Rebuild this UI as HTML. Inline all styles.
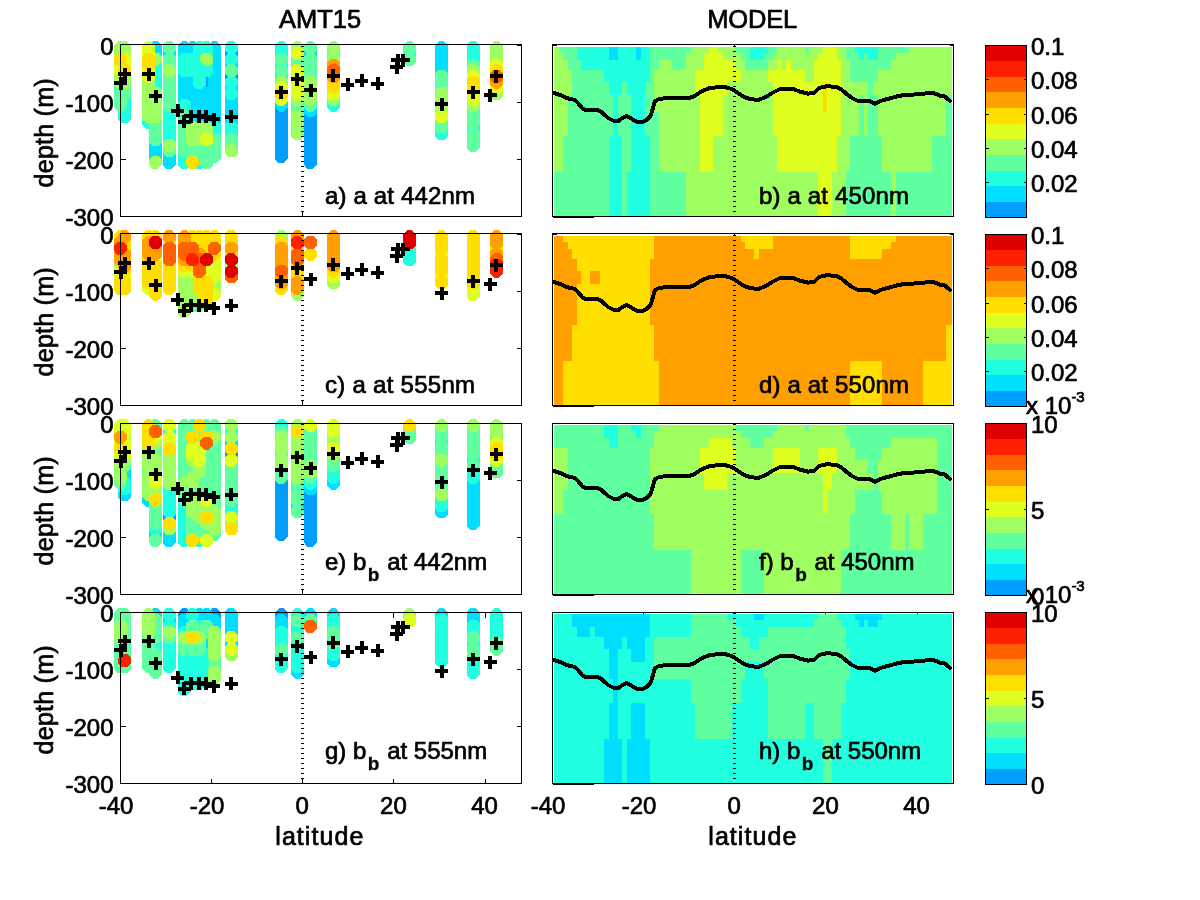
<!DOCTYPE html>
<html lang="en"><head><meta charset="utf-8"><title>AMT15 vs MODEL</title>
<style>html,body{margin:0;padding:0;background:#fff}body{width:1200px;height:900px;overflow:hidden}svg{display:block}text{font-family:"Liberation Sans",sans-serif;fill:#000;stroke:#000;stroke-width:.7px}.t{font-size:24px}.ax{fill:none;stroke:#000;stroke-width:1;shape-rendering:crispEdges}.tk{stroke:#000;stroke-width:1;shape-rendering:crispEdges;fill:none}.z{stroke:#000;stroke-width:3;stroke-dasharray:1 4;shape-rendering:crispEdges}.m{shape-rendering:crispEdges}.p{stroke:#000;stroke-width:4;shape-rendering:crispEdges}.ml{fill:none;stroke:#000;stroke-width:4;stroke-linejoin:round;stroke-linecap:round;shape-rendering:crispEdges}</style></head><body>
<svg width="1200" height="900" viewBox="0 0 1200 900">
<rect width="1200" height="900" fill="#fff"/>
<defs><polygon id="o" points="-2.69,-6.50 2.69,-6.50 6.50,-2.69 6.50,2.69 2.69,6.50 -2.69,6.50 -6.50,2.69 -6.50,-2.69"/>
<path id="pl" d="M-6.5 0H6.5M0 -6.5V6.5"/></defs>
<text class="t" x="320" y="28" text-anchor="middle" style="font-size:25.5px">AMT15</text>
<text class="t" x="752.3" y="28" text-anchor="middle" style="font-size:25.5px" textLength="90">MODEL</text>
<text class="t" x="113.5" y="54.7" text-anchor="end">0</text>
<text class="t" x="113.5" y="111.7" text-anchor="end">-100</text>
<text class="t" x="113.5" y="168.7" text-anchor="end">-200</text>
<text class="t" x="113.5" y="225.7" text-anchor="end">-300</text>
<path class="tk" d="M120.5 45.5h5M521.5 45.5h-5M120.5 102.5h5M521.5 102.5h-5M120.5 159.5h5M521.5 159.5h-5M302.5 216.5v-5"/>
<g class="m">
<use href="#o" x="206.6" y="76.5" fill="#009FFF"/>
<use href="#o" x="206.6" y="82.2" fill="#009FFF"/>
<use href="#o" x="206.6" y="87.9" fill="#009FFF"/>
<use href="#o" x="231.2" y="53.6" fill="#009FFF"/>
<use href="#o" x="231.2" y="76.5" fill="#009FFF"/>
<use href="#o" x="281.3" y="110.8" fill="#009FFF"/>
<use href="#o" x="281.3" y="116.5" fill="#009FFF"/>
<use href="#o" x="281.3" y="122.2" fill="#009FFF"/>
<use href="#o" x="281.3" y="127.9" fill="#009FFF"/>
<use href="#o" x="281.3" y="133.7" fill="#009FFF"/>
<use href="#o" x="281.3" y="139.4" fill="#009FFF"/>
<use href="#o" x="281.3" y="145.1" fill="#009FFF"/>
<use href="#o" x="281.3" y="150.8" fill="#009FFF"/>
<use href="#o" x="281.3" y="156.5" fill="#009FFF"/>
<use href="#o" x="310.5" y="116.5" fill="#009FFF"/>
<use href="#o" x="310.5" y="122.2" fill="#009FFF"/>
<use href="#o" x="310.5" y="127.9" fill="#009FFF"/>
<use href="#o" x="310.5" y="133.7" fill="#009FFF"/>
<use href="#o" x="310.5" y="139.4" fill="#009FFF"/>
<use href="#o" x="310.5" y="145.1" fill="#009FFF"/>
<use href="#o" x="310.5" y="150.8" fill="#009FFF"/>
<use href="#o" x="310.5" y="156.5" fill="#009FFF"/>
<use href="#o" x="310.5" y="162.3" fill="#009FFF"/>
<use href="#o" x="155.5" y="47.9" fill="#00DFFF"/>
<use href="#o" x="155.5" y="53.6" fill="#00DFFF"/>
<use href="#o" x="155.5" y="145.1" fill="#00DFFF"/>
<use href="#o" x="155.5" y="150.8" fill="#00DFFF"/>
<use href="#o" x="155.5" y="156.5" fill="#00DFFF"/>
<use href="#o" x="169.2" y="53.6" fill="#00DFFF"/>
<use href="#o" x="169.2" y="156.5" fill="#00DFFF"/>
<use href="#o" x="169.2" y="162.3" fill="#00DFFF"/>
<use href="#o" x="184.3" y="47.9" fill="#00DFFF"/>
<use href="#o" x="184.3" y="53.6" fill="#00DFFF"/>
<use href="#o" x="184.3" y="76.5" fill="#00DFFF"/>
<use href="#o" x="184.3" y="82.2" fill="#00DFFF"/>
<use href="#o" x="184.3" y="87.9" fill="#00DFFF"/>
<use href="#o" x="184.3" y="93.6" fill="#00DFFF"/>
<use href="#o" x="184.3" y="99.3" fill="#00DFFF"/>
<use href="#o" x="192.5" y="47.9" fill="#00DFFF"/>
<use href="#o" x="192.5" y="53.6" fill="#00DFFF"/>
<use href="#o" x="192.5" y="76.5" fill="#00DFFF"/>
<use href="#o" x="192.5" y="82.2" fill="#00DFFF"/>
<use href="#o" x="192.5" y="87.9" fill="#00DFFF"/>
<use href="#o" x="192.5" y="93.6" fill="#00DFFF"/>
<use href="#o" x="192.5" y="99.3" fill="#00DFFF"/>
<use href="#o" x="192.5" y="105.1" fill="#00DFFF"/>
<use href="#o" x="192.5" y="110.8" fill="#00DFFF"/>
<use href="#o" x="192.5" y="116.5" fill="#00DFFF"/>
<use href="#o" x="192.5" y="122.2" fill="#00DFFF"/>
<use href="#o" x="199.3" y="87.9" fill="#00DFFF"/>
<use href="#o" x="199.3" y="93.6" fill="#00DFFF"/>
<use href="#o" x="199.3" y="99.3" fill="#00DFFF"/>
<use href="#o" x="199.3" y="105.1" fill="#00DFFF"/>
<use href="#o" x="199.3" y="110.8" fill="#00DFFF"/>
<use href="#o" x="199.3" y="116.5" fill="#00DFFF"/>
<use href="#o" x="199.3" y="122.2" fill="#00DFFF"/>
<use href="#o" x="206.6" y="93.6" fill="#00DFFF"/>
<use href="#o" x="206.6" y="99.3" fill="#00DFFF"/>
<use href="#o" x="206.6" y="105.1" fill="#00DFFF"/>
<use href="#o" x="206.6" y="110.8" fill="#00DFFF"/>
<use href="#o" x="206.6" y="116.5" fill="#00DFFF"/>
<use href="#o" x="206.6" y="122.2" fill="#00DFFF"/>
<use href="#o" x="214.3" y="47.9" fill="#00DFFF"/>
<use href="#o" x="214.3" y="53.6" fill="#00DFFF"/>
<use href="#o" x="214.3" y="59.3" fill="#00DFFF"/>
<use href="#o" x="214.3" y="65.0" fill="#00DFFF"/>
<use href="#o" x="214.3" y="70.7" fill="#00DFFF"/>
<use href="#o" x="214.3" y="76.5" fill="#00DFFF"/>
<use href="#o" x="214.3" y="82.2" fill="#00DFFF"/>
<use href="#o" x="214.3" y="87.9" fill="#00DFFF"/>
<use href="#o" x="214.3" y="93.6" fill="#00DFFF"/>
<use href="#o" x="214.3" y="99.3" fill="#00DFFF"/>
<use href="#o" x="214.3" y="105.1" fill="#00DFFF"/>
<use href="#o" x="214.3" y="110.8" fill="#00DFFF"/>
<use href="#o" x="214.3" y="116.5" fill="#00DFFF"/>
<use href="#o" x="214.3" y="122.2" fill="#00DFFF"/>
<use href="#o" x="231.2" y="65.0" fill="#00DFFF"/>
<use href="#o" x="231.2" y="87.9" fill="#00DFFF"/>
<use href="#o" x="231.2" y="99.3" fill="#00DFFF"/>
<use href="#o" x="231.2" y="105.1" fill="#00DFFF"/>
<use href="#o" x="231.2" y="110.8" fill="#00DFFF"/>
<use href="#o" x="231.2" y="116.5" fill="#00DFFF"/>
<use href="#o" x="231.2" y="122.2" fill="#00DFFF"/>
<use href="#o" x="281.3" y="105.1" fill="#00DFFF"/>
<use href="#o" x="310.5" y="53.6" fill="#00DFFF"/>
<use href="#o" x="310.5" y="110.8" fill="#00DFFF"/>
<use href="#o" x="441.5" y="47.9" fill="#00DFFF"/>
<use href="#o" x="441.5" y="53.6" fill="#00DFFF"/>
<use href="#o" x="441.5" y="59.3" fill="#00DFFF"/>
<use href="#o" x="441.5" y="65.0" fill="#00DFFF"/>
<use href="#o" x="441.5" y="70.7" fill="#00DFFF"/>
<use href="#o" x="124.6" y="99.3" fill="#20FFDF"/>
<use href="#o" x="124.6" y="105.1" fill="#20FFDF"/>
<use href="#o" x="124.6" y="110.8" fill="#20FFDF"/>
<use href="#o" x="124.6" y="116.5" fill="#20FFDF"/>
<use href="#o" x="148.7" y="122.2" fill="#20FFDF"/>
<use href="#o" x="155.5" y="65.0" fill="#20FFDF"/>
<use href="#o" x="155.5" y="70.7" fill="#20FFDF"/>
<use href="#o" x="155.5" y="76.5" fill="#20FFDF"/>
<use href="#o" x="155.5" y="82.2" fill="#20FFDF"/>
<use href="#o" x="155.5" y="87.9" fill="#20FFDF"/>
<use href="#o" x="169.2" y="110.8" fill="#20FFDF"/>
<use href="#o" x="169.2" y="116.5" fill="#20FFDF"/>
<use href="#o" x="169.2" y="122.2" fill="#20FFDF"/>
<use href="#o" x="169.2" y="127.9" fill="#20FFDF"/>
<use href="#o" x="169.2" y="133.7" fill="#20FFDF"/>
<use href="#o" x="169.2" y="139.4" fill="#20FFDF"/>
<use href="#o" x="184.3" y="59.3" fill="#20FFDF"/>
<use href="#o" x="184.3" y="65.0" fill="#20FFDF"/>
<use href="#o" x="184.3" y="70.7" fill="#20FFDF"/>
<use href="#o" x="184.3" y="105.1" fill="#20FFDF"/>
<use href="#o" x="184.3" y="110.8" fill="#20FFDF"/>
<use href="#o" x="184.3" y="156.5" fill="#20FFDF"/>
<use href="#o" x="184.3" y="162.3" fill="#20FFDF"/>
<use href="#o" x="192.5" y="59.3" fill="#20FFDF"/>
<use href="#o" x="192.5" y="65.0" fill="#20FFDF"/>
<use href="#o" x="192.5" y="70.7" fill="#20FFDF"/>
<use href="#o" x="199.3" y="47.9" fill="#20FFDF"/>
<use href="#o" x="199.3" y="53.6" fill="#20FFDF"/>
<use href="#o" x="199.3" y="59.3" fill="#20FFDF"/>
<use href="#o" x="199.3" y="65.0" fill="#20FFDF"/>
<use href="#o" x="199.3" y="70.7" fill="#20FFDF"/>
<use href="#o" x="199.3" y="76.5" fill="#20FFDF"/>
<use href="#o" x="199.3" y="82.2" fill="#20FFDF"/>
<use href="#o" x="199.3" y="156.5" fill="#20FFDF"/>
<use href="#o" x="199.3" y="162.3" fill="#20FFDF"/>
<use href="#o" x="206.6" y="47.9" fill="#20FFDF"/>
<use href="#o" x="206.6" y="53.6" fill="#20FFDF"/>
<use href="#o" x="206.6" y="65.0" fill="#20FFDF"/>
<use href="#o" x="206.6" y="70.7" fill="#20FFDF"/>
<use href="#o" x="214.3" y="127.9" fill="#20FFDF"/>
<use href="#o" x="214.3" y="133.7" fill="#20FFDF"/>
<use href="#o" x="231.2" y="47.9" fill="#20FFDF"/>
<use href="#o" x="231.2" y="59.3" fill="#20FFDF"/>
<use href="#o" x="231.2" y="82.2" fill="#20FFDF"/>
<use href="#o" x="231.2" y="93.6" fill="#20FFDF"/>
<use href="#o" x="231.2" y="127.9" fill="#20FFDF"/>
<use href="#o" x="231.2" y="133.7" fill="#20FFDF"/>
<use href="#o" x="281.3" y="47.9" fill="#20FFDF"/>
<use href="#o" x="281.3" y="53.6" fill="#20FFDF"/>
<use href="#o" x="281.3" y="65.0" fill="#20FFDF"/>
<use href="#o" x="281.3" y="76.5" fill="#20FFDF"/>
<use href="#o" x="333.5" y="105.1" fill="#20FFDF"/>
<use href="#o" x="409.6" y="53.6" fill="#20FFDF"/>
<use href="#o" x="441.5" y="133.7" fill="#20FFDF"/>
<use href="#o" x="473.2" y="47.9" fill="#20FFDF"/>
<use href="#o" x="473.2" y="53.6" fill="#20FFDF"/>
<use href="#o" x="473.2" y="59.3" fill="#20FFDF"/>
<use href="#o" x="473.2" y="127.9" fill="#20FFDF"/>
<use href="#o" x="120.5" y="87.9" fill="#60FF9F"/>
<use href="#o" x="120.5" y="93.6" fill="#60FF9F"/>
<use href="#o" x="120.5" y="99.3" fill="#60FF9F"/>
<use href="#o" x="120.5" y="105.1" fill="#60FF9F"/>
<use href="#o" x="124.6" y="87.9" fill="#60FF9F"/>
<use href="#o" x="124.6" y="93.6" fill="#60FF9F"/>
<use href="#o" x="155.5" y="122.2" fill="#60FF9F"/>
<use href="#o" x="155.5" y="127.9" fill="#60FF9F"/>
<use href="#o" x="155.5" y="133.7" fill="#60FF9F"/>
<use href="#o" x="155.5" y="139.4" fill="#60FF9F"/>
<use href="#o" x="169.2" y="47.9" fill="#60FF9F"/>
<use href="#o" x="169.2" y="59.3" fill="#60FF9F"/>
<use href="#o" x="169.2" y="65.0" fill="#60FF9F"/>
<use href="#o" x="169.2" y="76.5" fill="#60FF9F"/>
<use href="#o" x="169.2" y="82.2" fill="#60FF9F"/>
<use href="#o" x="169.2" y="87.9" fill="#60FF9F"/>
<use href="#o" x="169.2" y="93.6" fill="#60FF9F"/>
<use href="#o" x="169.2" y="99.3" fill="#60FF9F"/>
<use href="#o" x="169.2" y="105.1" fill="#60FF9F"/>
<use href="#o" x="169.2" y="150.8" fill="#60FF9F"/>
<use href="#o" x="184.3" y="116.5" fill="#60FF9F"/>
<use href="#o" x="184.3" y="122.2" fill="#60FF9F"/>
<use href="#o" x="184.3" y="127.9" fill="#60FF9F"/>
<use href="#o" x="184.3" y="133.7" fill="#60FF9F"/>
<use href="#o" x="184.3" y="139.4" fill="#60FF9F"/>
<use href="#o" x="184.3" y="145.1" fill="#60FF9F"/>
<use href="#o" x="184.3" y="150.8" fill="#60FF9F"/>
<use href="#o" x="192.5" y="145.1" fill="#60FF9F"/>
<use href="#o" x="192.5" y="150.8" fill="#60FF9F"/>
<use href="#o" x="192.5" y="156.5" fill="#60FF9F"/>
<use href="#o" x="199.3" y="145.1" fill="#60FF9F"/>
<use href="#o" x="199.3" y="150.8" fill="#60FF9F"/>
<use href="#o" x="206.6" y="145.1" fill="#60FF9F"/>
<use href="#o" x="206.6" y="150.8" fill="#60FF9F"/>
<use href="#o" x="206.6" y="156.5" fill="#60FF9F"/>
<use href="#o" x="206.6" y="162.3" fill="#60FF9F"/>
<use href="#o" x="214.3" y="139.4" fill="#60FF9F"/>
<use href="#o" x="214.3" y="145.1" fill="#60FF9F"/>
<use href="#o" x="214.3" y="150.8" fill="#60FF9F"/>
<use href="#o" x="214.3" y="156.5" fill="#60FF9F"/>
<use href="#o" x="231.2" y="70.7" fill="#60FF9F"/>
<use href="#o" x="231.2" y="139.4" fill="#60FF9F"/>
<use href="#o" x="231.2" y="145.1" fill="#60FF9F"/>
<use href="#o" x="281.3" y="59.3" fill="#60FF9F"/>
<use href="#o" x="281.3" y="70.7" fill="#60FF9F"/>
<use href="#o" x="297.3" y="59.3" fill="#60FF9F"/>
<use href="#o" x="297.3" y="65.0" fill="#60FF9F"/>
<use href="#o" x="297.3" y="105.1" fill="#60FF9F"/>
<use href="#o" x="297.3" y="110.8" fill="#60FF9F"/>
<use href="#o" x="297.3" y="127.9" fill="#60FF9F"/>
<use href="#o" x="310.5" y="47.9" fill="#60FF9F"/>
<use href="#o" x="310.5" y="59.3" fill="#60FF9F"/>
<use href="#o" x="310.5" y="65.0" fill="#60FF9F"/>
<use href="#o" x="310.5" y="70.7" fill="#60FF9F"/>
<use href="#o" x="310.5" y="76.5" fill="#60FF9F"/>
<use href="#o" x="310.5" y="105.1" fill="#60FF9F"/>
<use href="#o" x="333.5" y="53.6" fill="#60FF9F"/>
<use href="#o" x="409.6" y="47.9" fill="#60FF9F"/>
<use href="#o" x="409.6" y="59.3" fill="#60FF9F"/>
<use href="#o" x="441.5" y="76.5" fill="#60FF9F"/>
<use href="#o" x="441.5" y="82.2" fill="#60FF9F"/>
<use href="#o" x="441.5" y="87.9" fill="#60FF9F"/>
<use href="#o" x="441.5" y="122.2" fill="#60FF9F"/>
<use href="#o" x="441.5" y="127.9" fill="#60FF9F"/>
<use href="#o" x="473.2" y="65.0" fill="#60FF9F"/>
<use href="#o" x="473.2" y="110.8" fill="#60FF9F"/>
<use href="#o" x="473.2" y="116.5" fill="#60FF9F"/>
<use href="#o" x="473.2" y="122.2" fill="#60FF9F"/>
<use href="#o" x="473.2" y="133.7" fill="#60FF9F"/>
<use href="#o" x="473.2" y="139.4" fill="#60FF9F"/>
<use href="#o" x="473.2" y="145.1" fill="#60FF9F"/>
<use href="#o" x="120.5" y="47.9" fill="#9FFF60"/>
<use href="#o" x="120.5" y="53.6" fill="#9FFF60"/>
<use href="#o" x="120.5" y="76.5" fill="#9FFF60"/>
<use href="#o" x="120.5" y="82.2" fill="#9FFF60"/>
<use href="#o" x="124.6" y="47.9" fill="#9FFF60"/>
<use href="#o" x="124.6" y="53.6" fill="#9FFF60"/>
<use href="#o" x="124.6" y="76.5" fill="#9FFF60"/>
<use href="#o" x="124.6" y="82.2" fill="#9FFF60"/>
<use href="#o" x="148.7" y="82.2" fill="#9FFF60"/>
<use href="#o" x="148.7" y="87.9" fill="#9FFF60"/>
<use href="#o" x="148.7" y="93.6" fill="#9FFF60"/>
<use href="#o" x="148.7" y="99.3" fill="#9FFF60"/>
<use href="#o" x="148.7" y="105.1" fill="#9FFF60"/>
<use href="#o" x="148.7" y="110.8" fill="#9FFF60"/>
<use href="#o" x="148.7" y="116.5" fill="#9FFF60"/>
<use href="#o" x="155.5" y="59.3" fill="#9FFF60"/>
<use href="#o" x="155.5" y="93.6" fill="#9FFF60"/>
<use href="#o" x="155.5" y="99.3" fill="#9FFF60"/>
<use href="#o" x="155.5" y="105.1" fill="#9FFF60"/>
<use href="#o" x="155.5" y="110.8" fill="#9FFF60"/>
<use href="#o" x="155.5" y="116.5" fill="#9FFF60"/>
<use href="#o" x="155.5" y="162.3" fill="#9FFF60"/>
<use href="#o" x="169.2" y="70.7" fill="#9FFF60"/>
<use href="#o" x="169.2" y="145.1" fill="#9FFF60"/>
<use href="#o" x="192.5" y="127.9" fill="#9FFF60"/>
<use href="#o" x="192.5" y="133.7" fill="#9FFF60"/>
<use href="#o" x="192.5" y="139.4" fill="#9FFF60"/>
<use href="#o" x="199.3" y="127.9" fill="#9FFF60"/>
<use href="#o" x="199.3" y="133.7" fill="#9FFF60"/>
<use href="#o" x="199.3" y="139.4" fill="#9FFF60"/>
<use href="#o" x="206.6" y="59.3" fill="#9FFF60"/>
<use href="#o" x="206.6" y="127.9" fill="#9FFF60"/>
<use href="#o" x="206.6" y="133.7" fill="#9FFF60"/>
<use href="#o" x="231.2" y="150.8" fill="#9FFF60"/>
<use href="#o" x="281.3" y="82.2" fill="#9FFF60"/>
<use href="#o" x="297.3" y="47.9" fill="#9FFF60"/>
<use href="#o" x="297.3" y="99.3" fill="#9FFF60"/>
<use href="#o" x="297.3" y="116.5" fill="#9FFF60"/>
<use href="#o" x="297.3" y="122.2" fill="#9FFF60"/>
<use href="#o" x="297.3" y="133.7" fill="#9FFF60"/>
<use href="#o" x="310.5" y="82.2" fill="#9FFF60"/>
<use href="#o" x="310.5" y="87.9" fill="#9FFF60"/>
<use href="#o" x="310.5" y="93.6" fill="#9FFF60"/>
<use href="#o" x="310.5" y="99.3" fill="#9FFF60"/>
<use href="#o" x="333.5" y="47.9" fill="#9FFF60"/>
<use href="#o" x="333.5" y="59.3" fill="#9FFF60"/>
<use href="#o" x="333.5" y="99.3" fill="#9FFF60"/>
<use href="#o" x="441.5" y="93.6" fill="#9FFF60"/>
<use href="#o" x="441.5" y="99.3" fill="#9FFF60"/>
<use href="#o" x="441.5" y="105.1" fill="#9FFF60"/>
<use href="#o" x="441.5" y="110.8" fill="#9FFF60"/>
<use href="#o" x="473.2" y="70.7" fill="#9FFF60"/>
<use href="#o" x="473.2" y="105.1" fill="#9FFF60"/>
<use href="#o" x="496.6" y="47.9" fill="#9FFF60"/>
<use href="#o" x="496.6" y="53.6" fill="#9FFF60"/>
<use href="#o" x="496.6" y="59.3" fill="#9FFF60"/>
<use href="#o" x="496.6" y="93.6" fill="#9FFF60"/>
<use href="#o" x="120.5" y="65.0" fill="#DFFF20"/>
<use href="#o" x="120.5" y="70.7" fill="#DFFF20"/>
<use href="#o" x="124.6" y="59.3" fill="#DFFF20"/>
<use href="#o" x="124.6" y="65.0" fill="#DFFF20"/>
<use href="#o" x="148.7" y="47.9" fill="#DFFF20"/>
<use href="#o" x="148.7" y="53.6" fill="#DFFF20"/>
<use href="#o" x="148.7" y="70.7" fill="#DFFF20"/>
<use href="#o" x="148.7" y="76.5" fill="#DFFF20"/>
<use href="#o" x="206.6" y="139.4" fill="#DFFF20"/>
<use href="#o" x="281.3" y="87.9" fill="#DFFF20"/>
<use href="#o" x="281.3" y="99.3" fill="#DFFF20"/>
<use href="#o" x="297.3" y="53.6" fill="#DFFF20"/>
<use href="#o" x="297.3" y="70.7" fill="#DFFF20"/>
<use href="#o" x="297.3" y="76.5" fill="#DFFF20"/>
<use href="#o" x="297.3" y="82.2" fill="#DFFF20"/>
<use href="#o" x="297.3" y="87.9" fill="#DFFF20"/>
<use href="#o" x="297.3" y="93.6" fill="#DFFF20"/>
<use href="#o" x="333.5" y="93.6" fill="#DFFF20"/>
<use href="#o" x="441.5" y="116.5" fill="#DFFF20"/>
<use href="#o" x="473.2" y="76.5" fill="#DFFF20"/>
<use href="#o" x="473.2" y="93.6" fill="#DFFF20"/>
<use href="#o" x="473.2" y="99.3" fill="#DFFF20"/>
<use href="#o" x="496.6" y="65.0" fill="#DFFF20"/>
<use href="#o" x="496.6" y="87.9" fill="#DFFF20"/>
<use href="#o" x="120.5" y="59.3" fill="#FFDF00"/>
<use href="#o" x="124.6" y="70.7" fill="#FFDF00"/>
<use href="#o" x="148.7" y="59.3" fill="#FFDF00"/>
<use href="#o" x="148.7" y="65.0" fill="#FFDF00"/>
<use href="#o" x="192.5" y="162.3" fill="#FFDF00"/>
<use href="#o" x="281.3" y="93.6" fill="#FFDF00"/>
<use href="#o" x="333.5" y="82.2" fill="#FFDF00"/>
<use href="#o" x="333.5" y="87.9" fill="#FFDF00"/>
<use href="#o" x="473.2" y="82.2" fill="#FFDF00"/>
<use href="#o" x="473.2" y="87.9" fill="#FFDF00"/>
<use href="#o" x="496.6" y="70.7" fill="#FFDF00"/>
<use href="#o" x="333.5" y="65.0" fill="#FF9F00"/>
<use href="#o" x="333.5" y="76.5" fill="#FF9F00"/>
<use href="#o" x="496.6" y="82.2" fill="#FF9F00"/>
<use href="#o" x="333.5" y="70.7" fill="#FF6000"/>
<use href="#o" x="496.6" y="76.5" fill="#FF6000"/>
</g>
<line class="z" x1="302.5" x2="302.5" y1="46.0" y2="213.5"/>
<g class="p">
<use href="#pl" x="120.5" y="83.0"/>
<use href="#pl" x="124.5" y="74.0"/>
<use href="#pl" x="148.5" y="74.0"/>
<use href="#pl" x="155.5" y="96.0"/>
<use href="#pl" x="177.5" y="110.5"/>
<use href="#pl" x="184.3" y="121.8"/>
<use href="#pl" x="190.9" y="116.1"/>
<use href="#pl" x="198.6" y="116.1"/>
<use href="#pl" x="206.1" y="116.6"/>
<use href="#pl" x="213.9" y="119.2"/>
<use href="#pl" x="231.3" y="116.9"/>
<use href="#pl" x="281.4" y="92.3"/>
<use href="#pl" x="297.4" y="79.2"/>
<use href="#pl" x="310.7" y="90.1"/>
<use href="#pl" x="333.0" y="75.7"/>
<use href="#pl" x="347.5" y="84.5"/>
<use href="#pl" x="361.5" y="80.5"/>
<use href="#pl" x="377.5" y="83.5"/>
<use href="#pl" x="396.5" y="67.0"/>
<use href="#pl" x="397.5" y="60.0"/>
<use href="#pl" x="403.0" y="60.0"/>
<use href="#pl" x="441.5" y="104.0"/>
<use href="#pl" x="473.3" y="92.0"/>
<use href="#pl" x="490.4" y="95.1"/>
<use href="#pl" x="496.2" y="76.1"/>
</g>
<rect class="ax" x="120.5" y="44.5" width="401.0" height="172.0"/>
<text class="t" transform="translate(53,132.9) rotate(-90)" text-anchor="middle" style="font-size:25px" textLength="109">depth (m)</text>
<text class="t" x="325.0" y="203.5" textLength="150">a) a at 442nm</text>
<path class="tk" d="M552.5 45.5h4M953.5 45.5h-4M734.5 44.5v3"/>
<g class="m">
<rect x="554" y="47" width="5" height="6.0" fill="#9FFF60"/>
<rect x="559" y="47" width="18" height="6.0" fill="#60FF9F"/>
<rect x="577" y="47" width="32" height="6.0" fill="#20FFDF"/>
<rect x="609" y="47" width="9" height="6.0" fill="#00DFFF"/>
<rect x="618" y="47" width="18" height="6.0" fill="#20FFDF"/>
<rect x="636" y="47" width="5" height="6.0" fill="#00DFFF"/>
<rect x="641" y="47" width="9" height="6.0" fill="#20FFDF"/>
<rect x="650" y="47" width="41" height="6.0" fill="#60FF9F"/>
<rect x="691" y="47" width="18" height="6.0" fill="#9FFF60"/>
<rect x="709" y="47" width="9" height="6.0" fill="#DFFF20"/>
<rect x="718" y="47" width="18" height="6.0" fill="#9FFF60"/>
<rect x="736" y="47" width="14" height="6.0" fill="#60FF9F"/>
<rect x="750" y="47" width="18" height="6.0" fill="#20FFDF"/>
<rect x="768" y="47" width="9" height="6.0" fill="#60FF9F"/>
<rect x="777" y="47" width="28" height="6.0" fill="#9FFF60"/>
<rect x="805" y="47" width="4" height="6.0" fill="#60FF9F"/>
<rect x="809" y="47" width="14" height="6.0" fill="#9FFF60"/>
<rect x="823" y="47" width="14" height="6.0" fill="#DFFF20"/>
<rect x="837" y="47" width="9" height="6.0" fill="#9FFF60"/>
<rect x="846" y="47" width="9" height="6.0" fill="#60FF9F"/>
<rect x="855" y="47" width="23" height="6.0" fill="#20FFDF"/>
<rect x="878" y="47" width="31" height="6.0" fill="#60FF9F"/>
<rect x="909" y="47" width="43" height="6.0" fill="#9FFF60"/>
<rect x="554" y="53" width="9" height="7.0" fill="#9FFF60"/>
<rect x="563" y="53" width="14" height="7.0" fill="#60FF9F"/>
<rect x="577" y="53" width="32" height="7.0" fill="#20FFDF"/>
<rect x="609" y="53" width="9" height="7.0" fill="#00DFFF"/>
<rect x="618" y="53" width="18" height="7.0" fill="#20FFDF"/>
<rect x="636" y="53" width="5" height="7.0" fill="#00DFFF"/>
<rect x="641" y="53" width="9" height="7.0" fill="#20FFDF"/>
<rect x="650" y="53" width="36" height="7.0" fill="#60FF9F"/>
<rect x="686" y="53" width="18" height="7.0" fill="#9FFF60"/>
<rect x="704" y="53" width="19" height="7.0" fill="#DFFF20"/>
<rect x="723" y="53" width="18" height="7.0" fill="#9FFF60"/>
<rect x="741" y="53" width="9" height="7.0" fill="#60FF9F"/>
<rect x="750" y="53" width="14" height="7.0" fill="#20FFDF"/>
<rect x="764" y="53" width="9" height="7.0" fill="#60FF9F"/>
<rect x="773" y="53" width="45" height="7.0" fill="#9FFF60"/>
<rect x="818" y="53" width="19" height="7.0" fill="#DFFF20"/>
<rect x="837" y="53" width="9" height="7.0" fill="#9FFF60"/>
<rect x="846" y="53" width="13" height="7.0" fill="#60FF9F"/>
<rect x="859" y="53" width="5" height="7.0" fill="#20FFDF"/>
<rect x="864" y="53" width="4" height="7.0" fill="#60FF9F"/>
<rect x="868" y="53" width="10" height="7.0" fill="#20FFDF"/>
<rect x="878" y="53" width="18" height="7.0" fill="#60FF9F"/>
<rect x="896" y="53" width="56" height="7.0" fill="#9FFF60"/>
<rect x="554" y="60" width="14" height="10.0" fill="#9FFF60"/>
<rect x="568" y="60" width="13" height="10.0" fill="#60FF9F"/>
<rect x="581" y="60" width="69" height="10.0" fill="#20FFDF"/>
<rect x="650" y="60" width="9" height="10.0" fill="#60FF9F"/>
<rect x="659" y="60" width="13" height="10.0" fill="#9FFF60"/>
<rect x="672" y="60" width="14" height="10.0" fill="#60FF9F"/>
<rect x="686" y="60" width="18" height="10.0" fill="#9FFF60"/>
<rect x="704" y="60" width="32" height="10.0" fill="#DFFF20"/>
<rect x="736" y="60" width="9" height="10.0" fill="#9FFF60"/>
<rect x="745" y="60" width="23" height="10.0" fill="#60FF9F"/>
<rect x="768" y="60" width="9" height="10.0" fill="#9FFF60"/>
<rect x="777" y="60" width="5" height="10.0" fill="#DFFF20"/>
<rect x="782" y="60" width="4" height="10.0" fill="#9FFF60"/>
<rect x="786" y="60" width="5" height="10.0" fill="#DFFF20"/>
<rect x="791" y="60" width="23" height="10.0" fill="#9FFF60"/>
<rect x="814" y="60" width="27" height="10.0" fill="#DFFF20"/>
<rect x="841" y="60" width="9" height="10.0" fill="#9FFF60"/>
<rect x="850" y="60" width="41" height="10.0" fill="#60FF9F"/>
<rect x="891" y="60" width="61" height="10.0" fill="#9FFF60"/>
<rect x="554" y="70" width="18" height="12.0" fill="#9FFF60"/>
<rect x="572" y="70" width="32" height="12.0" fill="#60FF9F"/>
<rect x="604" y="70" width="46" height="12.0" fill="#20FFDF"/>
<rect x="650" y="70" width="4" height="12.0" fill="#60FF9F"/>
<rect x="654" y="70" width="41" height="12.0" fill="#9FFF60"/>
<rect x="695" y="70" width="46" height="12.0" fill="#DFFF20"/>
<rect x="741" y="70" width="27" height="12.0" fill="#9FFF60"/>
<rect x="768" y="70" width="37" height="12.0" fill="#DFFF20"/>
<rect x="805" y="70" width="9" height="12.0" fill="#9FFF60"/>
<rect x="814" y="70" width="27" height="12.0" fill="#DFFF20"/>
<rect x="841" y="70" width="9" height="12.0" fill="#9FFF60"/>
<rect x="850" y="70" width="28" height="12.0" fill="#60FF9F"/>
<rect x="878" y="70" width="74" height="12.0" fill="#9FFF60"/>
<rect x="554" y="82" width="18" height="13.0" fill="#9FFF60"/>
<rect x="572" y="82" width="37" height="13.0" fill="#60FF9F"/>
<rect x="609" y="82" width="13" height="13.0" fill="#20FFDF"/>
<rect x="622" y="82" width="5" height="13.0" fill="#60FF9F"/>
<rect x="627" y="82" width="18" height="13.0" fill="#20FFDF"/>
<rect x="645" y="82" width="9" height="13.0" fill="#60FF9F"/>
<rect x="654" y="82" width="41" height="13.0" fill="#9FFF60"/>
<rect x="695" y="82" width="32" height="13.0" fill="#DFFF20"/>
<rect x="727" y="82" width="46" height="13.0" fill="#9FFF60"/>
<rect x="773" y="82" width="50" height="13.0" fill="#DFFF20"/>
<rect x="823" y="82" width="4" height="13.0" fill="#FFDF00"/>
<rect x="827" y="82" width="14" height="13.0" fill="#DFFF20"/>
<rect x="841" y="82" width="27" height="13.0" fill="#9FFF60"/>
<rect x="868" y="82" width="5" height="13.0" fill="#60FF9F"/>
<rect x="873" y="82" width="79" height="13.0" fill="#9FFF60"/>
<rect x="554" y="95" width="14" height="17.0" fill="#9FFF60"/>
<rect x="568" y="95" width="45" height="17.0" fill="#60FF9F"/>
<rect x="613" y="95" width="5" height="17.0" fill="#20FFDF"/>
<rect x="618" y="95" width="13" height="17.0" fill="#60FF9F"/>
<rect x="631" y="95" width="14" height="17.0" fill="#20FFDF"/>
<rect x="645" y="95" width="9" height="17.0" fill="#60FF9F"/>
<rect x="654" y="95" width="46" height="17.0" fill="#9FFF60"/>
<rect x="700" y="95" width="23" height="17.0" fill="#DFFF20"/>
<rect x="723" y="95" width="50" height="17.0" fill="#9FFF60"/>
<rect x="773" y="95" width="50" height="17.0" fill="#DFFF20"/>
<rect x="823" y="95" width="4" height="17.0" fill="#FFDF00"/>
<rect x="827" y="95" width="14" height="17.0" fill="#DFFF20"/>
<rect x="841" y="95" width="18" height="17.0" fill="#9FFF60"/>
<rect x="859" y="95" width="5" height="17.0" fill="#60FF9F"/>
<rect x="864" y="95" width="4" height="17.0" fill="#9FFF60"/>
<rect x="868" y="95" width="10" height="17.0" fill="#60FF9F"/>
<rect x="878" y="95" width="68" height="17.0" fill="#9FFF60"/>
<rect x="946" y="95" width="6" height="17.0" fill="#60FF9F"/>
<rect x="554" y="112" width="14" height="24.0" fill="#9FFF60"/>
<rect x="568" y="112" width="45" height="24.0" fill="#60FF9F"/>
<rect x="613" y="112" width="5" height="24.0" fill="#20FFDF"/>
<rect x="618" y="112" width="13" height="24.0" fill="#60FF9F"/>
<rect x="631" y="112" width="14" height="24.0" fill="#20FFDF"/>
<rect x="645" y="112" width="14" height="24.0" fill="#60FF9F"/>
<rect x="659" y="112" width="41" height="24.0" fill="#9FFF60"/>
<rect x="700" y="112" width="23" height="24.0" fill="#DFFF20"/>
<rect x="723" y="112" width="50" height="24.0" fill="#9FFF60"/>
<rect x="773" y="112" width="68" height="24.0" fill="#DFFF20"/>
<rect x="841" y="112" width="18" height="24.0" fill="#9FFF60"/>
<rect x="859" y="112" width="5" height="24.0" fill="#60FF9F"/>
<rect x="864" y="112" width="4" height="24.0" fill="#9FFF60"/>
<rect x="868" y="112" width="10" height="24.0" fill="#60FF9F"/>
<rect x="878" y="112" width="68" height="24.0" fill="#9FFF60"/>
<rect x="946" y="112" width="6" height="24.0" fill="#60FF9F"/>
<rect x="554" y="136" width="9" height="36.0" fill="#9FFF60"/>
<rect x="563" y="136" width="46" height="36.0" fill="#60FF9F"/>
<rect x="609" y="136" width="13" height="36.0" fill="#20FFDF"/>
<rect x="622" y="136" width="9" height="36.0" fill="#60FF9F"/>
<rect x="631" y="136" width="19" height="36.0" fill="#20FFDF"/>
<rect x="650" y="136" width="9" height="36.0" fill="#60FF9F"/>
<rect x="659" y="136" width="41" height="36.0" fill="#9FFF60"/>
<rect x="700" y="136" width="13" height="36.0" fill="#DFFF20"/>
<rect x="713" y="136" width="64" height="36.0" fill="#9FFF60"/>
<rect x="777" y="136" width="60" height="36.0" fill="#DFFF20"/>
<rect x="837" y="136" width="13" height="36.0" fill="#9FFF60"/>
<rect x="850" y="136" width="32" height="36.0" fill="#60FF9F"/>
<rect x="882" y="136" width="50" height="36.0" fill="#9FFF60"/>
<rect x="932" y="136" width="20" height="36.0" fill="#60FF9F"/>
<rect x="554" y="172" width="55" height="44.5" fill="#60FF9F"/>
<rect x="609" y="172" width="13" height="44.5" fill="#20FFDF"/>
<rect x="622" y="172" width="5" height="44.5" fill="#60FF9F"/>
<rect x="627" y="172" width="23" height="44.5" fill="#20FFDF"/>
<rect x="650" y="172" width="36" height="44.5" fill="#60FF9F"/>
<rect x="686" y="172" width="132" height="44.5" fill="#9FFF60"/>
<rect x="818" y="172" width="14" height="44.5" fill="#DFFF20"/>
<rect x="832" y="172" width="14" height="44.5" fill="#9FFF60"/>
<rect x="846" y="172" width="45" height="44.5" fill="#60FF9F"/>
<rect x="891" y="172" width="5" height="44.5" fill="#9FFF60"/>
<rect x="896" y="172" width="56" height="44.5" fill="#60FF9F"/>
</g>
<line class="z" x1="734.5" x2="734.5" y1="46.0" y2="213.5"/>
<polyline class="ml" points="554.0,93.0 560.0,95.0 568.0,98.4 575.0,100.0 578.0,103.0 582.0,108.0 586.0,110.4 598.0,110.0 602.0,112.4 608.0,118.0 614.0,121.0 618.0,121.4 623.0,117.6 627.0,116.0 632.0,119.0 637.0,121.6 642.0,122.0 647.0,120.0 651.0,115.0 653.0,108.0 655.0,101.0 659.0,99.0 664.0,98.4 688.0,98.4 694.0,96.4 702.0,91.0 710.0,88.0 718.0,87.2 726.0,87.4 732.0,89.0 738.0,93.0 744.0,97.0 750.0,99.0 758.0,100.0 766.0,97.0 772.0,93.0 780.0,89.0 788.0,88.6 793.0,89.0 800.0,91.6 808.0,93.6 814.0,93.0 819.0,88.0 826.0,86.4 836.0,86.6 841.0,89.0 846.0,93.6 852.0,98.0 858.0,101.0 870.0,101.4 875.0,103.6 880.0,101.0 890.0,98.4 900.0,95.6 910.0,95.0 922.0,93.6 934.0,93.2 940.0,95.6 945.0,96.6 950.0,101.0"/>
<rect class="ax" x="552.5" y="44.5" width="401.0" height="172.0"/>
<path class="tk" d="M553.0 217.5h41"/>
<text class="t" x="759.0" y="203.5" textLength="150">b) a at 450nm</text>
<g class="m">
<rect x="986" y="202" width="40" height="16" fill="#009FFF"/>
<rect x="986" y="186" width="40" height="16" fill="#00DFFF"/>
<rect x="986" y="171" width="40" height="15" fill="#20FFDF"/>
<rect x="986" y="155" width="40" height="16" fill="#60FF9F"/>
<rect x="986" y="139" width="40" height="16" fill="#9FFF60"/>
<rect x="986" y="124" width="40" height="15" fill="#DFFF20"/>
<rect x="986" y="108" width="40" height="16" fill="#FFDF00"/>
<rect x="986" y="92" width="40" height="16" fill="#FF9F00"/>
<rect x="986" y="77" width="40" height="15" fill="#FF6000"/>
<rect x="986" y="61" width="40" height="16" fill="#FF2000"/>
<rect x="986" y="46" width="40" height="15" fill="#DF0000"/>
</g>
<rect class="ax" x="985.5" y="45.5" width="41.0" height="172.0"/>
<text class="t" x="1031" y="192.1">0.02</text>
<text class="t" x="1031" y="158.1">0.04</text>
<text class="t" x="1031" y="124.1">0.06</text>
<text class="t" x="1031" y="89.1">0.08</text>
<text class="t" x="1031" y="55.1">0.1</text>
<path class="tk" d="M985.5 182.5h3M1026.5 182.5h-3M985.5 148.5h3M1026.5 148.5h-3M985.5 114.5h3M1026.5 114.5h-3M985.5 79.5h3M1026.5 79.5h-3M985.5 45.5h3M1026.5 45.5h-3"/>
<text class="t" x="113.5" y="243.7" text-anchor="end">0</text>
<text class="t" x="113.5" y="300.7" text-anchor="end">-100</text>
<text class="t" x="113.5" y="357.7" text-anchor="end">-200</text>
<text class="t" x="113.5" y="414.7" text-anchor="end">-300</text>
<path class="tk" d="M120.5 234.5h5M521.5 234.5h-5M120.5 291.5h5M521.5 291.5h-5M120.5 348.5h5M521.5 348.5h-5M302.5 405.5v-5"/>
<g class="m">
<use href="#o" x="409.6" y="248.3" fill="#20FFDF"/>
<use href="#o" x="409.6" y="254.0" fill="#20FFDF"/>
<use href="#o" x="409.6" y="259.7" fill="#20FFDF"/>
<use href="#o" x="192.5" y="305.5" fill="#60FF9F"/>
<use href="#o" x="199.3" y="305.5" fill="#60FF9F"/>
<use href="#o" x="120.5" y="265.5" fill="#9FFF60"/>
<use href="#o" x="169.2" y="242.6" fill="#9FFF60"/>
<use href="#o" x="184.3" y="276.9" fill="#9FFF60"/>
<use href="#o" x="184.3" y="282.6" fill="#9FFF60"/>
<use href="#o" x="184.3" y="288.3" fill="#9FFF60"/>
<use href="#o" x="184.3" y="294.1" fill="#9FFF60"/>
<use href="#o" x="184.3" y="299.8" fill="#9FFF60"/>
<use href="#o" x="184.3" y="305.5" fill="#9FFF60"/>
<use href="#o" x="184.3" y="311.2" fill="#9FFF60"/>
<use href="#o" x="192.5" y="276.9" fill="#9FFF60"/>
<use href="#o" x="192.5" y="282.6" fill="#9FFF60"/>
<use href="#o" x="192.5" y="288.3" fill="#9FFF60"/>
<use href="#o" x="192.5" y="294.1" fill="#9FFF60"/>
<use href="#o" x="192.5" y="299.8" fill="#9FFF60"/>
<use href="#o" x="199.3" y="294.1" fill="#9FFF60"/>
<use href="#o" x="199.3" y="299.8" fill="#9FFF60"/>
<use href="#o" x="214.3" y="282.6" fill="#9FFF60"/>
<use href="#o" x="214.3" y="288.3" fill="#9FFF60"/>
<use href="#o" x="231.2" y="242.6" fill="#9FFF60"/>
<use href="#o" x="231.2" y="265.5" fill="#9FFF60"/>
<use href="#o" x="281.3" y="236.9" fill="#9FFF60"/>
<use href="#o" x="297.3" y="294.1" fill="#9FFF60"/>
<use href="#o" x="333.5" y="282.6" fill="#9FFF60"/>
<use href="#o" x="120.5" y="271.2" fill="#DFFF20"/>
<use href="#o" x="120.5" y="276.9" fill="#DFFF20"/>
<use href="#o" x="124.6" y="276.9" fill="#DFFF20"/>
<use href="#o" x="148.7" y="288.3" fill="#DFFF20"/>
<use href="#o" x="155.5" y="259.7" fill="#DFFF20"/>
<use href="#o" x="184.3" y="271.2" fill="#DFFF20"/>
<use href="#o" x="192.5" y="271.2" fill="#DFFF20"/>
<use href="#o" x="206.6" y="265.5" fill="#DFFF20"/>
<use href="#o" x="206.6" y="271.2" fill="#DFFF20"/>
<use href="#o" x="206.6" y="276.9" fill="#DFFF20"/>
<use href="#o" x="214.3" y="259.7" fill="#DFFF20"/>
<use href="#o" x="214.3" y="265.5" fill="#DFFF20"/>
<use href="#o" x="214.3" y="271.2" fill="#DFFF20"/>
<use href="#o" x="214.3" y="276.9" fill="#DFFF20"/>
<use href="#o" x="214.3" y="294.1" fill="#DFFF20"/>
<use href="#o" x="333.5" y="276.9" fill="#DFFF20"/>
<use href="#o" x="441.5" y="254.0" fill="#DFFF20"/>
<use href="#o" x="441.5" y="276.9" fill="#DFFF20"/>
<use href="#o" x="473.2" y="288.3" fill="#DFFF20"/>
<use href="#o" x="473.2" y="294.1" fill="#DFFF20"/>
<use href="#o" x="120.5" y="236.9" fill="#FFDF00"/>
<use href="#o" x="120.5" y="282.6" fill="#FFDF00"/>
<use href="#o" x="120.5" y="288.3" fill="#FFDF00"/>
<use href="#o" x="124.6" y="242.6" fill="#FFDF00"/>
<use href="#o" x="124.6" y="248.3" fill="#FFDF00"/>
<use href="#o" x="124.6" y="271.2" fill="#FFDF00"/>
<use href="#o" x="124.6" y="282.6" fill="#FFDF00"/>
<use href="#o" x="124.6" y="288.3" fill="#FFDF00"/>
<use href="#o" x="148.7" y="236.9" fill="#FFDF00"/>
<use href="#o" x="148.7" y="259.7" fill="#FFDF00"/>
<use href="#o" x="148.7" y="265.5" fill="#FFDF00"/>
<use href="#o" x="148.7" y="271.2" fill="#FFDF00"/>
<use href="#o" x="148.7" y="276.9" fill="#FFDF00"/>
<use href="#o" x="148.7" y="282.6" fill="#FFDF00"/>
<use href="#o" x="155.5" y="236.9" fill="#FFDF00"/>
<use href="#o" x="155.5" y="265.5" fill="#FFDF00"/>
<use href="#o" x="155.5" y="271.2" fill="#FFDF00"/>
<use href="#o" x="155.5" y="276.9" fill="#FFDF00"/>
<use href="#o" x="155.5" y="282.6" fill="#FFDF00"/>
<use href="#o" x="155.5" y="288.3" fill="#FFDF00"/>
<use href="#o" x="155.5" y="294.1" fill="#FFDF00"/>
<use href="#o" x="169.2" y="265.5" fill="#FFDF00"/>
<use href="#o" x="169.2" y="271.2" fill="#FFDF00"/>
<use href="#o" x="169.2" y="276.9" fill="#FFDF00"/>
<use href="#o" x="169.2" y="282.6" fill="#FFDF00"/>
<use href="#o" x="169.2" y="288.3" fill="#FFDF00"/>
<use href="#o" x="184.3" y="265.5" fill="#FFDF00"/>
<use href="#o" x="192.5" y="236.9" fill="#FFDF00"/>
<use href="#o" x="192.5" y="242.6" fill="#FFDF00"/>
<use href="#o" x="192.5" y="265.5" fill="#FFDF00"/>
<use href="#o" x="199.3" y="236.9" fill="#FFDF00"/>
<use href="#o" x="199.3" y="242.6" fill="#FFDF00"/>
<use href="#o" x="199.3" y="248.3" fill="#FFDF00"/>
<use href="#o" x="199.3" y="276.9" fill="#FFDF00"/>
<use href="#o" x="199.3" y="282.6" fill="#FFDF00"/>
<use href="#o" x="199.3" y="288.3" fill="#FFDF00"/>
<use href="#o" x="206.6" y="236.9" fill="#FFDF00"/>
<use href="#o" x="206.6" y="242.6" fill="#FFDF00"/>
<use href="#o" x="206.6" y="248.3" fill="#FFDF00"/>
<use href="#o" x="206.6" y="254.0" fill="#FFDF00"/>
<use href="#o" x="206.6" y="282.6" fill="#FFDF00"/>
<use href="#o" x="206.6" y="288.3" fill="#FFDF00"/>
<use href="#o" x="206.6" y="294.1" fill="#FFDF00"/>
<use href="#o" x="206.6" y="299.8" fill="#FFDF00"/>
<use href="#o" x="214.3" y="236.9" fill="#FFDF00"/>
<use href="#o" x="214.3" y="242.6" fill="#FFDF00"/>
<use href="#o" x="214.3" y="254.0" fill="#FFDF00"/>
<use href="#o" x="231.2" y="236.9" fill="#FFDF00"/>
<use href="#o" x="231.2" y="254.0" fill="#FFDF00"/>
<use href="#o" x="281.3" y="242.6" fill="#FFDF00"/>
<use href="#o" x="281.3" y="288.3" fill="#FFDF00"/>
<use href="#o" x="297.3" y="248.3" fill="#FFDF00"/>
<use href="#o" x="297.3" y="265.5" fill="#FFDF00"/>
<use href="#o" x="297.3" y="271.2" fill="#FFDF00"/>
<use href="#o" x="297.3" y="276.9" fill="#FFDF00"/>
<use href="#o" x="310.5" y="254.0" fill="#FFDF00"/>
<use href="#o" x="333.5" y="271.2" fill="#FFDF00"/>
<use href="#o" x="441.5" y="236.9" fill="#FFDF00"/>
<use href="#o" x="441.5" y="242.6" fill="#FFDF00"/>
<use href="#o" x="441.5" y="248.3" fill="#FFDF00"/>
<use href="#o" x="441.5" y="259.7" fill="#FFDF00"/>
<use href="#o" x="441.5" y="265.5" fill="#FFDF00"/>
<use href="#o" x="441.5" y="271.2" fill="#FFDF00"/>
<use href="#o" x="441.5" y="282.6" fill="#FFDF00"/>
<use href="#o" x="473.2" y="236.9" fill="#FFDF00"/>
<use href="#o" x="473.2" y="242.6" fill="#FFDF00"/>
<use href="#o" x="473.2" y="248.3" fill="#FFDF00"/>
<use href="#o" x="473.2" y="254.0" fill="#FFDF00"/>
<use href="#o" x="473.2" y="259.7" fill="#FFDF00"/>
<use href="#o" x="473.2" y="265.5" fill="#FFDF00"/>
<use href="#o" x="473.2" y="271.2" fill="#FFDF00"/>
<use href="#o" x="473.2" y="276.9" fill="#FFDF00"/>
<use href="#o" x="473.2" y="282.6" fill="#FFDF00"/>
<use href="#o" x="496.6" y="248.3" fill="#FFDF00"/>
<use href="#o" x="120.5" y="242.6" fill="#FF9F00"/>
<use href="#o" x="120.5" y="254.0" fill="#FF9F00"/>
<use href="#o" x="120.5" y="259.7" fill="#FF9F00"/>
<use href="#o" x="124.6" y="236.9" fill="#FF9F00"/>
<use href="#o" x="124.6" y="254.0" fill="#FF9F00"/>
<use href="#o" x="124.6" y="259.7" fill="#FF9F00"/>
<use href="#o" x="124.6" y="265.5" fill="#FF9F00"/>
<use href="#o" x="148.7" y="242.6" fill="#FF9F00"/>
<use href="#o" x="148.7" y="248.3" fill="#FF9F00"/>
<use href="#o" x="148.7" y="254.0" fill="#FF9F00"/>
<use href="#o" x="155.5" y="248.3" fill="#FF9F00"/>
<use href="#o" x="155.5" y="254.0" fill="#FF9F00"/>
<use href="#o" x="169.2" y="236.9" fill="#FF9F00"/>
<use href="#o" x="184.3" y="236.9" fill="#FF9F00"/>
<use href="#o" x="184.3" y="242.6" fill="#FF9F00"/>
<use href="#o" x="184.3" y="259.7" fill="#FF9F00"/>
<use href="#o" x="199.3" y="254.0" fill="#FF9F00"/>
<use href="#o" x="231.2" y="248.3" fill="#FF9F00"/>
<use href="#o" x="281.3" y="248.3" fill="#FF9F00"/>
<use href="#o" x="281.3" y="254.0" fill="#FF9F00"/>
<use href="#o" x="281.3" y="259.7" fill="#FF9F00"/>
<use href="#o" x="281.3" y="265.5" fill="#FF9F00"/>
<use href="#o" x="281.3" y="276.9" fill="#FF9F00"/>
<use href="#o" x="281.3" y="282.6" fill="#FF9F00"/>
<use href="#o" x="297.3" y="236.9" fill="#FF9F00"/>
<use href="#o" x="297.3" y="282.6" fill="#FF9F00"/>
<use href="#o" x="297.3" y="288.3" fill="#FF9F00"/>
<use href="#o" x="333.5" y="236.9" fill="#FF9F00"/>
<use href="#o" x="333.5" y="242.6" fill="#FF9F00"/>
<use href="#o" x="333.5" y="248.3" fill="#FF9F00"/>
<use href="#o" x="333.5" y="254.0" fill="#FF9F00"/>
<use href="#o" x="333.5" y="259.7" fill="#FF9F00"/>
<use href="#o" x="333.5" y="265.5" fill="#FF9F00"/>
<use href="#o" x="496.6" y="236.9" fill="#FF9F00"/>
<use href="#o" x="496.6" y="242.6" fill="#FF9F00"/>
<use href="#o" x="496.6" y="254.0" fill="#FF9F00"/>
<use href="#o" x="169.2" y="248.3" fill="#FF6000"/>
<use href="#o" x="169.2" y="254.0" fill="#FF6000"/>
<use href="#o" x="169.2" y="259.7" fill="#FF6000"/>
<use href="#o" x="184.3" y="248.3" fill="#FF6000"/>
<use href="#o" x="184.3" y="254.0" fill="#FF6000"/>
<use href="#o" x="192.5" y="248.3" fill="#FF6000"/>
<use href="#o" x="192.5" y="254.0" fill="#FF6000"/>
<use href="#o" x="199.3" y="259.7" fill="#FF6000"/>
<use href="#o" x="199.3" y="265.5" fill="#FF6000"/>
<use href="#o" x="199.3" y="271.2" fill="#FF6000"/>
<use href="#o" x="214.3" y="248.3" fill="#FF6000"/>
<use href="#o" x="231.2" y="276.9" fill="#FF6000"/>
<use href="#o" x="281.3" y="271.2" fill="#FF6000"/>
<use href="#o" x="297.3" y="254.0" fill="#FF6000"/>
<use href="#o" x="297.3" y="259.7" fill="#FF6000"/>
<use href="#o" x="310.5" y="242.6" fill="#FF6000"/>
<use href="#o" x="496.6" y="259.7" fill="#FF6000"/>
<use href="#o" x="120.5" y="248.3" fill="#FF2000"/>
<use href="#o" x="192.5" y="259.7" fill="#FF2000"/>
<use href="#o" x="297.3" y="242.6" fill="#FF2000"/>
<use href="#o" x="496.6" y="265.5" fill="#FF2000"/>
<use href="#o" x="496.6" y="271.2" fill="#FF2000"/>
<use href="#o" x="155.5" y="242.6" fill="#DF0000"/>
<use href="#o" x="206.6" y="259.7" fill="#DF0000"/>
<use href="#o" x="231.2" y="259.7" fill="#DF0000"/>
<use href="#o" x="231.2" y="271.2" fill="#DF0000"/>
<use href="#o" x="409.6" y="236.9" fill="#DF0000"/>
<use href="#o" x="409.6" y="242.6" fill="#DF0000"/>
</g>
<line class="z" x1="302.5" x2="302.5" y1="235.0" y2="402.5"/>
<g class="p">
<use href="#pl" x="120.5" y="272.0"/>
<use href="#pl" x="124.5" y="263.0"/>
<use href="#pl" x="148.5" y="263.0"/>
<use href="#pl" x="155.5" y="285.0"/>
<use href="#pl" x="177.5" y="299.5"/>
<use href="#pl" x="184.3" y="310.8"/>
<use href="#pl" x="190.9" y="305.1"/>
<use href="#pl" x="198.6" y="305.1"/>
<use href="#pl" x="206.1" y="305.6"/>
<use href="#pl" x="213.9" y="308.2"/>
<use href="#pl" x="231.3" y="305.9"/>
<use href="#pl" x="281.4" y="281.3"/>
<use href="#pl" x="297.4" y="268.2"/>
<use href="#pl" x="310.7" y="279.1"/>
<use href="#pl" x="333.0" y="264.7"/>
<use href="#pl" x="347.5" y="273.5"/>
<use href="#pl" x="361.5" y="269.5"/>
<use href="#pl" x="377.5" y="272.5"/>
<use href="#pl" x="396.5" y="256.0"/>
<use href="#pl" x="397.5" y="249.0"/>
<use href="#pl" x="403.0" y="249.0"/>
<use href="#pl" x="441.5" y="293.0"/>
<use href="#pl" x="473.3" y="281.0"/>
<use href="#pl" x="490.4" y="284.1"/>
<use href="#pl" x="496.2" y="265.1"/>
</g>
<rect class="ax" x="120.5" y="233.5" width="401.0" height="172.0"/>
<text class="t" transform="translate(53,321.9) rotate(-90)" text-anchor="middle" style="font-size:25px" textLength="109">depth (m)</text>
<text class="t" x="325.0" y="392.5" textLength="150">c) a at 555nm</text>
<path class="tk" d="M552.5 234.5h4M953.5 234.5h-4M734.5 233.5v3"/>
<g class="m">
<rect x="554" y="236" width="9" height="6.0" fill="#FF9F00"/>
<rect x="563" y="236" width="91" height="6.0" fill="#FFDF00"/>
<rect x="654" y="236" width="87" height="6.0" fill="#FF9F00"/>
<rect x="741" y="236" width="32" height="6.0" fill="#FFDF00"/>
<rect x="773" y="236" width="77" height="6.0" fill="#FF9F00"/>
<rect x="850" y="236" width="46" height="6.0" fill="#FFDF00"/>
<rect x="896" y="236" width="56" height="6.0" fill="#FF9F00"/>
<rect x="554" y="242" width="14" height="7.0" fill="#FF9F00"/>
<rect x="568" y="242" width="86" height="7.0" fill="#FFDF00"/>
<rect x="654" y="242" width="91" height="7.0" fill="#FF9F00"/>
<rect x="745" y="242" width="28" height="7.0" fill="#FFDF00"/>
<rect x="773" y="242" width="77" height="7.0" fill="#FF9F00"/>
<rect x="850" y="242" width="41" height="7.0" fill="#FFDF00"/>
<rect x="891" y="242" width="61" height="7.0" fill="#FF9F00"/>
<rect x="554" y="249" width="18" height="10.0" fill="#FF9F00"/>
<rect x="572" y="249" width="82" height="10.0" fill="#FFDF00"/>
<rect x="654" y="249" width="100" height="10.0" fill="#FF9F00"/>
<rect x="754" y="249" width="5" height="10.0" fill="#FFDF00"/>
<rect x="759" y="249" width="91" height="10.0" fill="#FF9F00"/>
<rect x="850" y="249" width="32" height="10.0" fill="#FFDF00"/>
<rect x="882" y="249" width="70" height="10.0" fill="#FF9F00"/>
<rect x="554" y="259" width="23" height="12.0" fill="#FF9F00"/>
<rect x="577" y="259" width="73" height="12.0" fill="#FFDF00"/>
<rect x="650" y="259" width="302" height="12.0" fill="#FF9F00"/>
<rect x="554" y="271" width="27" height="13.0" fill="#FF9F00"/>
<rect x="581" y="271" width="9" height="13.0" fill="#FFDF00"/>
<rect x="590" y="271" width="10" height="13.0" fill="#FF9F00"/>
<rect x="600" y="271" width="50" height="13.0" fill="#FFDF00"/>
<rect x="650" y="271" width="302" height="13.0" fill="#FF9F00"/>
<rect x="554" y="284" width="23" height="17.0" fill="#FF9F00"/>
<rect x="577" y="284" width="73" height="17.0" fill="#FFDF00"/>
<rect x="650" y="284" width="302" height="17.0" fill="#FF9F00"/>
<rect x="554" y="301" width="23" height="24.0" fill="#FF9F00"/>
<rect x="577" y="301" width="73" height="24.0" fill="#FFDF00"/>
<rect x="650" y="301" width="302" height="24.0" fill="#FF9F00"/>
<rect x="554" y="325" width="18" height="36.0" fill="#FF9F00"/>
<rect x="572" y="325" width="82" height="36.0" fill="#FFDF00"/>
<rect x="654" y="325" width="292" height="36.0" fill="#FF9F00"/>
<rect x="946" y="325" width="6" height="36.0" fill="#FFDF00"/>
<rect x="554" y="361" width="9" height="44.5" fill="#FF9F00"/>
<rect x="563" y="361" width="96" height="44.5" fill="#FFDF00"/>
<rect x="659" y="361" width="191" height="44.5" fill="#FF9F00"/>
<rect x="850" y="361" width="32" height="44.5" fill="#FFDF00"/>
<rect x="882" y="361" width="41" height="44.5" fill="#FF9F00"/>
<rect x="923" y="361" width="29" height="44.5" fill="#FFDF00"/>
</g>
<line class="z" x1="734.5" x2="734.5" y1="235.0" y2="402.5"/>
<polyline class="ml" points="554.0,282.0 560.0,284.0 568.0,287.4 575.0,289.0 578.0,292.0 582.0,297.0 586.0,299.4 598.0,299.0 602.0,301.4 608.0,307.0 614.0,310.0 618.0,310.4 623.0,306.6 627.0,305.0 632.0,308.0 637.0,310.6 642.0,311.0 647.0,309.0 651.0,304.0 653.0,297.0 655.0,290.0 659.0,288.0 664.0,287.4 688.0,287.4 694.0,285.4 702.0,280.0 710.0,277.0 718.0,276.2 726.0,276.4 732.0,278.0 738.0,282.0 744.0,286.0 750.0,288.0 758.0,289.0 766.0,286.0 772.0,282.0 780.0,278.0 788.0,277.6 793.0,278.0 800.0,280.6 808.0,282.6 814.0,282.0 819.0,277.0 826.0,275.4 836.0,275.6 841.0,278.0 846.0,282.6 852.0,287.0 858.0,290.0 870.0,290.4 875.0,292.6 880.0,290.0 890.0,287.4 900.0,284.6 910.0,284.0 922.0,282.6 934.0,282.2 940.0,284.6 945.0,285.6 950.0,290.0"/>
<rect class="ax" x="552.5" y="233.5" width="401.0" height="172.0"/>
<path class="tk" d="M553.0 406.5h41"/>
<text class="t" x="759.0" y="392.5" textLength="150">d) a at 550nm</text>
<g class="m">
<rect x="986" y="391" width="40" height="15" fill="#009FFF"/>
<rect x="986" y="375" width="40" height="16" fill="#00DFFF"/>
<rect x="986" y="360" width="40" height="15" fill="#20FFDF"/>
<rect x="986" y="344" width="40" height="16" fill="#60FF9F"/>
<rect x="986" y="328" width="40" height="16" fill="#9FFF60"/>
<rect x="986" y="313" width="40" height="15" fill="#DFFF20"/>
<rect x="986" y="297" width="40" height="16" fill="#FFDF00"/>
<rect x="986" y="281" width="40" height="16" fill="#FF9F00"/>
<rect x="986" y="266" width="40" height="15" fill="#FF6000"/>
<rect x="986" y="250" width="40" height="16" fill="#FF2000"/>
<rect x="986" y="234" width="40" height="16" fill="#DF0000"/>
</g>
<rect class="ax" x="985.5" y="234.5" width="41.0" height="172.0"/>
<text class="t" x="1031" y="381.1">0.02</text>
<text class="t" x="1031" y="347.1">0.04</text>
<text class="t" x="1031" y="313.1">0.06</text>
<text class="t" x="1031" y="278.1">0.08</text>
<text class="t" x="1031" y="244.1">0.1</text>
<path class="tk" d="M985.5 371.5h3M1026.5 371.5h-3M985.5 337.5h3M1026.5 337.5h-3M985.5 303.5h3M1026.5 303.5h-3M985.5 268.5h3M1026.5 268.5h-3M985.5 234.5h3M1026.5 234.5h-3"/>
<text class="t" x="113.5" y="432.7" text-anchor="end">0</text>
<text class="t" x="113.5" y="489.7" text-anchor="end">-100</text>
<text class="t" x="113.5" y="546.7" text-anchor="end">-200</text>
<text class="t" x="113.5" y="603.7" text-anchor="end">-300</text>
<path class="tk" d="M120.5 423.5h5M521.5 423.5h-5M120.5 480.5h5M521.5 480.5h-5M120.5 537.5h5M521.5 537.5h-5M302.5 594.5v-5"/>
<g class="m">
<use href="#o" x="169.2" y="517.4" fill="#009FFF"/>
<use href="#o" x="231.2" y="454.5" fill="#009FFF"/>
<use href="#o" x="281.3" y="483.1" fill="#009FFF"/>
<use href="#o" x="281.3" y="488.8" fill="#009FFF"/>
<use href="#o" x="281.3" y="494.5" fill="#009FFF"/>
<use href="#o" x="281.3" y="500.2" fill="#009FFF"/>
<use href="#o" x="281.3" y="505.9" fill="#009FFF"/>
<use href="#o" x="281.3" y="511.7" fill="#009FFF"/>
<use href="#o" x="281.3" y="517.4" fill="#009FFF"/>
<use href="#o" x="281.3" y="523.1" fill="#009FFF"/>
<use href="#o" x="281.3" y="528.8" fill="#009FFF"/>
<use href="#o" x="281.3" y="534.5" fill="#009FFF"/>
<use href="#o" x="310.5" y="494.5" fill="#009FFF"/>
<use href="#o" x="310.5" y="500.2" fill="#009FFF"/>
<use href="#o" x="310.5" y="505.9" fill="#009FFF"/>
<use href="#o" x="310.5" y="511.7" fill="#009FFF"/>
<use href="#o" x="310.5" y="517.4" fill="#009FFF"/>
<use href="#o" x="310.5" y="523.1" fill="#009FFF"/>
<use href="#o" x="310.5" y="528.8" fill="#009FFF"/>
<use href="#o" x="310.5" y="534.5" fill="#009FFF"/>
<use href="#o" x="310.5" y="540.3" fill="#009FFF"/>
<use href="#o" x="124.6" y="471.6" fill="#00DFFF"/>
<use href="#o" x="124.6" y="477.3" fill="#00DFFF"/>
<use href="#o" x="124.6" y="494.5" fill="#00DFFF"/>
<use href="#o" x="148.7" y="500.2" fill="#00DFFF"/>
<use href="#o" x="155.5" y="534.5" fill="#00DFFF"/>
<use href="#o" x="169.2" y="534.5" fill="#00DFFF"/>
<use href="#o" x="169.2" y="540.3" fill="#00DFFF"/>
<use href="#o" x="231.2" y="443.0" fill="#00DFFF"/>
<use href="#o" x="297.3" y="505.9" fill="#00DFFF"/>
<use href="#o" x="310.5" y="488.8" fill="#00DFFF"/>
<use href="#o" x="333.5" y="483.1" fill="#00DFFF"/>
<use href="#o" x="441.5" y="511.7" fill="#00DFFF"/>
<use href="#o" x="473.2" y="483.1" fill="#00DFFF"/>
<use href="#o" x="473.2" y="488.8" fill="#00DFFF"/>
<use href="#o" x="473.2" y="494.5" fill="#00DFFF"/>
<use href="#o" x="473.2" y="500.2" fill="#00DFFF"/>
<use href="#o" x="473.2" y="505.9" fill="#00DFFF"/>
<use href="#o" x="473.2" y="511.7" fill="#00DFFF"/>
<use href="#o" x="473.2" y="517.4" fill="#00DFFF"/>
<use href="#o" x="473.2" y="523.1" fill="#00DFFF"/>
<use href="#o" x="124.6" y="483.1" fill="#20FFDF"/>
<use href="#o" x="124.6" y="488.8" fill="#20FFDF"/>
<use href="#o" x="155.5" y="528.8" fill="#20FFDF"/>
<use href="#o" x="169.2" y="431.6" fill="#20FFDF"/>
<use href="#o" x="169.2" y="488.8" fill="#20FFDF"/>
<use href="#o" x="169.2" y="494.5" fill="#20FFDF"/>
<use href="#o" x="169.2" y="500.2" fill="#20FFDF"/>
<use href="#o" x="169.2" y="505.9" fill="#20FFDF"/>
<use href="#o" x="169.2" y="511.7" fill="#20FFDF"/>
<use href="#o" x="184.3" y="505.9" fill="#20FFDF"/>
<use href="#o" x="184.3" y="511.7" fill="#20FFDF"/>
<use href="#o" x="184.3" y="517.4" fill="#20FFDF"/>
<use href="#o" x="184.3" y="523.1" fill="#20FFDF"/>
<use href="#o" x="184.3" y="528.8" fill="#20FFDF"/>
<use href="#o" x="184.3" y="534.5" fill="#20FFDF"/>
<use href="#o" x="184.3" y="540.3" fill="#20FFDF"/>
<use href="#o" x="199.3" y="540.3" fill="#20FFDF"/>
<use href="#o" x="206.6" y="465.9" fill="#20FFDF"/>
<use href="#o" x="231.2" y="431.6" fill="#20FFDF"/>
<use href="#o" x="231.2" y="505.9" fill="#20FFDF"/>
<use href="#o" x="231.2" y="511.7" fill="#20FFDF"/>
<use href="#o" x="281.3" y="425.9" fill="#20FFDF"/>
<use href="#o" x="297.3" y="488.8" fill="#20FFDF"/>
<use href="#o" x="310.5" y="431.6" fill="#20FFDF"/>
<use href="#o" x="310.5" y="483.1" fill="#20FFDF"/>
<use href="#o" x="333.5" y="471.6" fill="#20FFDF"/>
<use href="#o" x="333.5" y="477.3" fill="#20FFDF"/>
<use href="#o" x="441.5" y="443.0" fill="#20FFDF"/>
<use href="#o" x="441.5" y="500.2" fill="#20FFDF"/>
<use href="#o" x="441.5" y="505.9" fill="#20FFDF"/>
<use href="#o" x="473.2" y="460.2" fill="#20FFDF"/>
<use href="#o" x="473.2" y="471.6" fill="#20FFDF"/>
<use href="#o" x="473.2" y="477.3" fill="#20FFDF"/>
<use href="#o" x="120.5" y="471.6" fill="#60FF9F"/>
<use href="#o" x="120.5" y="483.1" fill="#60FF9F"/>
<use href="#o" x="124.6" y="465.9" fill="#60FF9F"/>
<use href="#o" x="148.7" y="471.6" fill="#60FF9F"/>
<use href="#o" x="155.5" y="425.9" fill="#60FF9F"/>
<use href="#o" x="155.5" y="448.7" fill="#60FF9F"/>
<use href="#o" x="155.5" y="454.5" fill="#60FF9F"/>
<use href="#o" x="155.5" y="505.9" fill="#60FF9F"/>
<use href="#o" x="155.5" y="511.7" fill="#60FF9F"/>
<use href="#o" x="155.5" y="517.4" fill="#60FF9F"/>
<use href="#o" x="155.5" y="523.1" fill="#60FF9F"/>
<use href="#o" x="155.5" y="540.3" fill="#60FF9F"/>
<use href="#o" x="184.3" y="425.9" fill="#60FF9F"/>
<use href="#o" x="184.3" y="431.6" fill="#60FF9F"/>
<use href="#o" x="184.3" y="437.3" fill="#60FF9F"/>
<use href="#o" x="184.3" y="443.0" fill="#60FF9F"/>
<use href="#o" x="184.3" y="448.7" fill="#60FF9F"/>
<use href="#o" x="184.3" y="454.5" fill="#60FF9F"/>
<use href="#o" x="184.3" y="460.2" fill="#60FF9F"/>
<use href="#o" x="184.3" y="465.9" fill="#60FF9F"/>
<use href="#o" x="184.3" y="471.6" fill="#60FF9F"/>
<use href="#o" x="184.3" y="477.3" fill="#60FF9F"/>
<use href="#o" x="184.3" y="488.8" fill="#60FF9F"/>
<use href="#o" x="184.3" y="494.5" fill="#60FF9F"/>
<use href="#o" x="184.3" y="500.2" fill="#60FF9F"/>
<use href="#o" x="192.5" y="425.9" fill="#60FF9F"/>
<use href="#o" x="192.5" y="431.6" fill="#60FF9F"/>
<use href="#o" x="192.5" y="443.0" fill="#60FF9F"/>
<use href="#o" x="192.5" y="465.9" fill="#60FF9F"/>
<use href="#o" x="192.5" y="471.6" fill="#60FF9F"/>
<use href="#o" x="192.5" y="488.8" fill="#60FF9F"/>
<use href="#o" x="192.5" y="494.5" fill="#60FF9F"/>
<use href="#o" x="192.5" y="517.4" fill="#60FF9F"/>
<use href="#o" x="192.5" y="523.1" fill="#60FF9F"/>
<use href="#o" x="192.5" y="528.8" fill="#60FF9F"/>
<use href="#o" x="192.5" y="534.5" fill="#60FF9F"/>
<use href="#o" x="199.3" y="431.6" fill="#60FF9F"/>
<use href="#o" x="199.3" y="437.3" fill="#60FF9F"/>
<use href="#o" x="199.3" y="443.0" fill="#60FF9F"/>
<use href="#o" x="199.3" y="477.3" fill="#60FF9F"/>
<use href="#o" x="199.3" y="483.1" fill="#60FF9F"/>
<use href="#o" x="199.3" y="488.8" fill="#60FF9F"/>
<use href="#o" x="199.3" y="494.5" fill="#60FF9F"/>
<use href="#o" x="199.3" y="523.1" fill="#60FF9F"/>
<use href="#o" x="199.3" y="528.8" fill="#60FF9F"/>
<use href="#o" x="199.3" y="534.5" fill="#60FF9F"/>
<use href="#o" x="206.6" y="425.9" fill="#60FF9F"/>
<use href="#o" x="206.6" y="431.6" fill="#60FF9F"/>
<use href="#o" x="206.6" y="448.7" fill="#60FF9F"/>
<use href="#o" x="206.6" y="454.5" fill="#60FF9F"/>
<use href="#o" x="206.6" y="460.2" fill="#60FF9F"/>
<use href="#o" x="206.6" y="471.6" fill="#60FF9F"/>
<use href="#o" x="206.6" y="477.3" fill="#60FF9F"/>
<use href="#o" x="206.6" y="483.1" fill="#60FF9F"/>
<use href="#o" x="206.6" y="488.8" fill="#60FF9F"/>
<use href="#o" x="206.6" y="494.5" fill="#60FF9F"/>
<use href="#o" x="206.6" y="528.8" fill="#60FF9F"/>
<use href="#o" x="206.6" y="534.5" fill="#60FF9F"/>
<use href="#o" x="214.3" y="425.9" fill="#60FF9F"/>
<use href="#o" x="214.3" y="431.6" fill="#60FF9F"/>
<use href="#o" x="214.3" y="443.0" fill="#60FF9F"/>
<use href="#o" x="214.3" y="448.7" fill="#60FF9F"/>
<use href="#o" x="214.3" y="454.5" fill="#60FF9F"/>
<use href="#o" x="214.3" y="460.2" fill="#60FF9F"/>
<use href="#o" x="214.3" y="465.9" fill="#60FF9F"/>
<use href="#o" x="214.3" y="471.6" fill="#60FF9F"/>
<use href="#o" x="214.3" y="477.3" fill="#60FF9F"/>
<use href="#o" x="214.3" y="483.1" fill="#60FF9F"/>
<use href="#o" x="214.3" y="488.8" fill="#60FF9F"/>
<use href="#o" x="214.3" y="494.5" fill="#60FF9F"/>
<use href="#o" x="214.3" y="500.2" fill="#60FF9F"/>
<use href="#o" x="214.3" y="505.9" fill="#60FF9F"/>
<use href="#o" x="214.3" y="534.5" fill="#60FF9F"/>
<use href="#o" x="231.2" y="465.9" fill="#60FF9F"/>
<use href="#o" x="231.2" y="471.6" fill="#60FF9F"/>
<use href="#o" x="231.2" y="477.3" fill="#60FF9F"/>
<use href="#o" x="231.2" y="483.1" fill="#60FF9F"/>
<use href="#o" x="231.2" y="488.8" fill="#60FF9F"/>
<use href="#o" x="231.2" y="494.5" fill="#60FF9F"/>
<use href="#o" x="231.2" y="500.2" fill="#60FF9F"/>
<use href="#o" x="281.3" y="431.6" fill="#60FF9F"/>
<use href="#o" x="281.3" y="454.5" fill="#60FF9F"/>
<use href="#o" x="281.3" y="471.6" fill="#60FF9F"/>
<use href="#o" x="281.3" y="477.3" fill="#60FF9F"/>
<use href="#o" x="297.3" y="483.1" fill="#60FF9F"/>
<use href="#o" x="297.3" y="494.5" fill="#60FF9F"/>
<use href="#o" x="297.3" y="500.2" fill="#60FF9F"/>
<use href="#o" x="297.3" y="511.7" fill="#60FF9F"/>
<use href="#o" x="310.5" y="437.3" fill="#60FF9F"/>
<use href="#o" x="310.5" y="443.0" fill="#60FF9F"/>
<use href="#o" x="310.5" y="448.7" fill="#60FF9F"/>
<use href="#o" x="310.5" y="454.5" fill="#60FF9F"/>
<use href="#o" x="310.5" y="460.2" fill="#60FF9F"/>
<use href="#o" x="310.5" y="477.3" fill="#60FF9F"/>
<use href="#o" x="333.5" y="460.2" fill="#60FF9F"/>
<use href="#o" x="333.5" y="465.9" fill="#60FF9F"/>
<use href="#o" x="409.6" y="431.6" fill="#60FF9F"/>
<use href="#o" x="409.6" y="437.3" fill="#60FF9F"/>
<use href="#o" x="441.5" y="431.6" fill="#60FF9F"/>
<use href="#o" x="441.5" y="437.3" fill="#60FF9F"/>
<use href="#o" x="441.5" y="448.7" fill="#60FF9F"/>
<use href="#o" x="441.5" y="454.5" fill="#60FF9F"/>
<use href="#o" x="441.5" y="465.9" fill="#60FF9F"/>
<use href="#o" x="441.5" y="471.6" fill="#60FF9F"/>
<use href="#o" x="441.5" y="477.3" fill="#60FF9F"/>
<use href="#o" x="441.5" y="483.1" fill="#60FF9F"/>
<use href="#o" x="441.5" y="488.8" fill="#60FF9F"/>
<use href="#o" x="473.2" y="431.6" fill="#60FF9F"/>
<use href="#o" x="473.2" y="437.3" fill="#60FF9F"/>
<use href="#o" x="473.2" y="443.0" fill="#60FF9F"/>
<use href="#o" x="473.2" y="448.7" fill="#60FF9F"/>
<use href="#o" x="473.2" y="454.5" fill="#60FF9F"/>
<use href="#o" x="473.2" y="465.9" fill="#60FF9F"/>
<use href="#o" x="496.6" y="437.3" fill="#60FF9F"/>
<use href="#o" x="496.6" y="465.9" fill="#60FF9F"/>
<use href="#o" x="496.6" y="471.6" fill="#60FF9F"/>
<use href="#o" x="120.5" y="460.2" fill="#9FFF60"/>
<use href="#o" x="120.5" y="465.9" fill="#9FFF60"/>
<use href="#o" x="120.5" y="477.3" fill="#9FFF60"/>
<use href="#o" x="124.6" y="437.3" fill="#9FFF60"/>
<use href="#o" x="124.6" y="460.2" fill="#9FFF60"/>
<use href="#o" x="148.7" y="448.7" fill="#9FFF60"/>
<use href="#o" x="148.7" y="454.5" fill="#9FFF60"/>
<use href="#o" x="148.7" y="460.2" fill="#9FFF60"/>
<use href="#o" x="148.7" y="465.9" fill="#9FFF60"/>
<use href="#o" x="148.7" y="477.3" fill="#9FFF60"/>
<use href="#o" x="148.7" y="483.1" fill="#9FFF60"/>
<use href="#o" x="148.7" y="488.8" fill="#9FFF60"/>
<use href="#o" x="148.7" y="494.5" fill="#9FFF60"/>
<use href="#o" x="155.5" y="443.0" fill="#9FFF60"/>
<use href="#o" x="155.5" y="460.2" fill="#9FFF60"/>
<use href="#o" x="155.5" y="465.9" fill="#9FFF60"/>
<use href="#o" x="155.5" y="471.6" fill="#9FFF60"/>
<use href="#o" x="155.5" y="488.8" fill="#9FFF60"/>
<use href="#o" x="155.5" y="494.5" fill="#9FFF60"/>
<use href="#o" x="169.2" y="454.5" fill="#9FFF60"/>
<use href="#o" x="169.2" y="460.2" fill="#9FFF60"/>
<use href="#o" x="169.2" y="465.9" fill="#9FFF60"/>
<use href="#o" x="169.2" y="471.6" fill="#9FFF60"/>
<use href="#o" x="169.2" y="477.3" fill="#9FFF60"/>
<use href="#o" x="169.2" y="483.1" fill="#9FFF60"/>
<use href="#o" x="169.2" y="528.8" fill="#9FFF60"/>
<use href="#o" x="184.3" y="483.1" fill="#9FFF60"/>
<use href="#o" x="192.5" y="460.2" fill="#9FFF60"/>
<use href="#o" x="192.5" y="477.3" fill="#9FFF60"/>
<use href="#o" x="192.5" y="483.1" fill="#9FFF60"/>
<use href="#o" x="192.5" y="500.2" fill="#9FFF60"/>
<use href="#o" x="192.5" y="505.9" fill="#9FFF60"/>
<use href="#o" x="192.5" y="511.7" fill="#9FFF60"/>
<use href="#o" x="199.3" y="465.9" fill="#9FFF60"/>
<use href="#o" x="199.3" y="471.6" fill="#9FFF60"/>
<use href="#o" x="199.3" y="500.2" fill="#9FFF60"/>
<use href="#o" x="199.3" y="505.9" fill="#9FFF60"/>
<use href="#o" x="199.3" y="511.7" fill="#9FFF60"/>
<use href="#o" x="199.3" y="517.4" fill="#9FFF60"/>
<use href="#o" x="206.6" y="505.9" fill="#9FFF60"/>
<use href="#o" x="206.6" y="511.7" fill="#9FFF60"/>
<use href="#o" x="206.6" y="523.1" fill="#9FFF60"/>
<use href="#o" x="214.3" y="437.3" fill="#9FFF60"/>
<use href="#o" x="214.3" y="511.7" fill="#9FFF60"/>
<use href="#o" x="214.3" y="517.4" fill="#9FFF60"/>
<use href="#o" x="214.3" y="523.1" fill="#9FFF60"/>
<use href="#o" x="214.3" y="528.8" fill="#9FFF60"/>
<use href="#o" x="231.2" y="425.9" fill="#9FFF60"/>
<use href="#o" x="231.2" y="437.3" fill="#9FFF60"/>
<use href="#o" x="231.2" y="523.1" fill="#9FFF60"/>
<use href="#o" x="281.3" y="437.3" fill="#9FFF60"/>
<use href="#o" x="281.3" y="443.0" fill="#9FFF60"/>
<use href="#o" x="281.3" y="448.7" fill="#9FFF60"/>
<use href="#o" x="281.3" y="460.2" fill="#9FFF60"/>
<use href="#o" x="281.3" y="465.9" fill="#9FFF60"/>
<use href="#o" x="297.3" y="425.9" fill="#9FFF60"/>
<use href="#o" x="297.3" y="437.3" fill="#9FFF60"/>
<use href="#o" x="297.3" y="443.0" fill="#9FFF60"/>
<use href="#o" x="297.3" y="448.7" fill="#9FFF60"/>
<use href="#o" x="297.3" y="454.5" fill="#9FFF60"/>
<use href="#o" x="297.3" y="460.2" fill="#9FFF60"/>
<use href="#o" x="297.3" y="465.9" fill="#9FFF60"/>
<use href="#o" x="297.3" y="471.6" fill="#9FFF60"/>
<use href="#o" x="297.3" y="477.3" fill="#9FFF60"/>
<use href="#o" x="310.5" y="465.9" fill="#9FFF60"/>
<use href="#o" x="310.5" y="471.6" fill="#9FFF60"/>
<use href="#o" x="333.5" y="437.3" fill="#9FFF60"/>
<use href="#o" x="333.5" y="443.0" fill="#9FFF60"/>
<use href="#o" x="333.5" y="454.5" fill="#9FFF60"/>
<use href="#o" x="441.5" y="425.9" fill="#9FFF60"/>
<use href="#o" x="441.5" y="460.2" fill="#9FFF60"/>
<use href="#o" x="441.5" y="494.5" fill="#9FFF60"/>
<use href="#o" x="473.2" y="425.9" fill="#9FFF60"/>
<use href="#o" x="496.6" y="425.9" fill="#9FFF60"/>
<use href="#o" x="496.6" y="431.6" fill="#9FFF60"/>
<use href="#o" x="120.5" y="425.9" fill="#DFFF20"/>
<use href="#o" x="120.5" y="431.6" fill="#DFFF20"/>
<use href="#o" x="120.5" y="443.0" fill="#DFFF20"/>
<use href="#o" x="120.5" y="454.5" fill="#DFFF20"/>
<use href="#o" x="124.6" y="425.9" fill="#DFFF20"/>
<use href="#o" x="124.6" y="431.6" fill="#DFFF20"/>
<use href="#o" x="124.6" y="443.0" fill="#DFFF20"/>
<use href="#o" x="124.6" y="448.7" fill="#DFFF20"/>
<use href="#o" x="124.6" y="454.5" fill="#DFFF20"/>
<use href="#o" x="155.5" y="437.3" fill="#DFFF20"/>
<use href="#o" x="155.5" y="477.3" fill="#DFFF20"/>
<use href="#o" x="155.5" y="483.1" fill="#DFFF20"/>
<use href="#o" x="169.2" y="425.9" fill="#DFFF20"/>
<use href="#o" x="169.2" y="437.3" fill="#DFFF20"/>
<use href="#o" x="169.2" y="443.0" fill="#DFFF20"/>
<use href="#o" x="192.5" y="448.7" fill="#DFFF20"/>
<use href="#o" x="192.5" y="454.5" fill="#DFFF20"/>
<use href="#o" x="199.3" y="448.7" fill="#DFFF20"/>
<use href="#o" x="199.3" y="454.5" fill="#DFFF20"/>
<use href="#o" x="199.3" y="460.2" fill="#DFFF20"/>
<use href="#o" x="206.6" y="500.2" fill="#DFFF20"/>
<use href="#o" x="206.6" y="540.3" fill="#DFFF20"/>
<use href="#o" x="231.2" y="460.2" fill="#DFFF20"/>
<use href="#o" x="231.2" y="517.4" fill="#DFFF20"/>
<use href="#o" x="310.5" y="425.9" fill="#DFFF20"/>
<use href="#o" x="333.5" y="425.9" fill="#DFFF20"/>
<use href="#o" x="333.5" y="431.6" fill="#DFFF20"/>
<use href="#o" x="333.5" y="448.7" fill="#DFFF20"/>
<use href="#o" x="496.6" y="443.0" fill="#DFFF20"/>
<use href="#o" x="496.6" y="460.2" fill="#DFFF20"/>
<use href="#o" x="120.5" y="448.7" fill="#FFDF00"/>
<use href="#o" x="148.7" y="425.9" fill="#FFDF00"/>
<use href="#o" x="148.7" y="431.6" fill="#FFDF00"/>
<use href="#o" x="148.7" y="437.3" fill="#FFDF00"/>
<use href="#o" x="148.7" y="443.0" fill="#FFDF00"/>
<use href="#o" x="155.5" y="500.2" fill="#FFDF00"/>
<use href="#o" x="169.2" y="448.7" fill="#FFDF00"/>
<use href="#o" x="169.2" y="523.1" fill="#FFDF00"/>
<use href="#o" x="192.5" y="437.3" fill="#FFDF00"/>
<use href="#o" x="192.5" y="540.3" fill="#FFDF00"/>
<use href="#o" x="199.3" y="425.9" fill="#FFDF00"/>
<use href="#o" x="206.6" y="437.3" fill="#FFDF00"/>
<use href="#o" x="206.6" y="517.4" fill="#FFDF00"/>
<use href="#o" x="231.2" y="448.7" fill="#FFDF00"/>
<use href="#o" x="231.2" y="528.8" fill="#FFDF00"/>
<use href="#o" x="297.3" y="431.6" fill="#FFDF00"/>
<use href="#o" x="409.6" y="425.9" fill="#FFDF00"/>
<use href="#o" x="496.6" y="448.7" fill="#FFDF00"/>
<use href="#o" x="496.6" y="454.5" fill="#FFDF00"/>
<use href="#o" x="120.5" y="437.3" fill="#FF9F00"/>
<use href="#o" x="155.5" y="431.6" fill="#FF6000"/>
<use href="#o" x="206.6" y="443.0" fill="#FF6000"/>
</g>
<line class="z" x1="302.5" x2="302.5" y1="424.0" y2="591.5"/>
<g class="p">
<use href="#pl" x="120.5" y="461.0"/>
<use href="#pl" x="124.5" y="452.0"/>
<use href="#pl" x="148.5" y="452.0"/>
<use href="#pl" x="155.5" y="474.0"/>
<use href="#pl" x="177.5" y="488.5"/>
<use href="#pl" x="184.3" y="499.8"/>
<use href="#pl" x="190.9" y="494.1"/>
<use href="#pl" x="198.6" y="494.1"/>
<use href="#pl" x="206.1" y="494.6"/>
<use href="#pl" x="213.9" y="497.2"/>
<use href="#pl" x="231.3" y="494.9"/>
<use href="#pl" x="281.4" y="470.3"/>
<use href="#pl" x="297.4" y="457.2"/>
<use href="#pl" x="310.7" y="468.1"/>
<use href="#pl" x="333.0" y="453.7"/>
<use href="#pl" x="347.5" y="462.5"/>
<use href="#pl" x="361.5" y="458.5"/>
<use href="#pl" x="377.5" y="461.5"/>
<use href="#pl" x="396.5" y="445.0"/>
<use href="#pl" x="397.5" y="438.0"/>
<use href="#pl" x="403.0" y="438.0"/>
<use href="#pl" x="441.5" y="482.0"/>
<use href="#pl" x="473.3" y="470.0"/>
<use href="#pl" x="490.4" y="473.1"/>
<use href="#pl" x="496.2" y="454.1"/>
</g>
<rect class="ax" x="120.5" y="423.5" width="401.0" height="171.0"/>
<text class="t" transform="translate(53,510.9) rotate(-90)" text-anchor="middle" style="font-size:25px" textLength="109">depth (m)</text>
<text class="t" x="325.0" y="569.5">e) b<tspan dy="11" dx="1.5" style="font-size:19px;font-weight:bold;stroke-width:.3px">b</tspan><tspan dy="-11" dx="1"> at 442nm</tspan></text>
<path class="tk" d="M552.5 423.5h4M953.5 423.5h-4M734.5 423.5v3"/>
<g class="m">
<rect x="554" y="425" width="50" height="6.0" fill="#60FF9F"/>
<rect x="604" y="425" width="14" height="6.0" fill="#20FFDF"/>
<rect x="618" y="425" width="13" height="6.0" fill="#60FF9F"/>
<rect x="631" y="425" width="10" height="6.0" fill="#20FFDF"/>
<rect x="641" y="425" width="18" height="6.0" fill="#60FF9F"/>
<rect x="659" y="425" width="77" height="6.0" fill="#9FFF60"/>
<rect x="736" y="425" width="41" height="6.0" fill="#60FF9F"/>
<rect x="777" y="425" width="28" height="6.0" fill="#9FFF60"/>
<rect x="805" y="425" width="4" height="6.0" fill="#60FF9F"/>
<rect x="809" y="425" width="37" height="6.0" fill="#9FFF60"/>
<rect x="846" y="425" width="106" height="6.0" fill="#60FF9F"/>
<rect x="554" y="431" width="50" height="7.0" fill="#60FF9F"/>
<rect x="604" y="431" width="14" height="7.0" fill="#20FFDF"/>
<rect x="618" y="431" width="18" height="7.0" fill="#60FF9F"/>
<rect x="636" y="431" width="5" height="7.0" fill="#20FFDF"/>
<rect x="641" y="431" width="13" height="7.0" fill="#60FF9F"/>
<rect x="654" y="431" width="87" height="7.0" fill="#9FFF60"/>
<rect x="741" y="431" width="32" height="7.0" fill="#60FF9F"/>
<rect x="773" y="431" width="73" height="7.0" fill="#9FFF60"/>
<rect x="846" y="431" width="106" height="7.0" fill="#60FF9F"/>
<rect x="554" y="438" width="55" height="10.0" fill="#60FF9F"/>
<rect x="609" y="438" width="9" height="10.0" fill="#20FFDF"/>
<rect x="618" y="438" width="36" height="10.0" fill="#60FF9F"/>
<rect x="654" y="438" width="55" height="10.0" fill="#9FFF60"/>
<rect x="709" y="438" width="23" height="10.0" fill="#DFFF20"/>
<rect x="732" y="438" width="18" height="10.0" fill="#9FFF60"/>
<rect x="750" y="438" width="14" height="10.0" fill="#60FF9F"/>
<rect x="764" y="438" width="86" height="10.0" fill="#9FFF60"/>
<rect x="850" y="438" width="41" height="10.0" fill="#60FF9F"/>
<rect x="891" y="438" width="46" height="10.0" fill="#9FFF60"/>
<rect x="937" y="438" width="15" height="10.0" fill="#60FF9F"/>
<rect x="554" y="448" width="14" height="12.0" fill="#9FFF60"/>
<rect x="568" y="448" width="82" height="12.0" fill="#60FF9F"/>
<rect x="650" y="448" width="50" height="12.0" fill="#9FFF60"/>
<rect x="700" y="448" width="36" height="12.0" fill="#DFFF20"/>
<rect x="736" y="448" width="37" height="12.0" fill="#9FFF60"/>
<rect x="773" y="448" width="27" height="12.0" fill="#DFFF20"/>
<rect x="800" y="448" width="18" height="12.0" fill="#9FFF60"/>
<rect x="818" y="448" width="19" height="12.0" fill="#DFFF20"/>
<rect x="837" y="448" width="18" height="12.0" fill="#9FFF60"/>
<rect x="855" y="448" width="27" height="12.0" fill="#60FF9F"/>
<rect x="882" y="448" width="55" height="12.0" fill="#9FFF60"/>
<rect x="937" y="448" width="15" height="12.0" fill="#60FF9F"/>
<rect x="554" y="460" width="14" height="13.0" fill="#9FFF60"/>
<rect x="568" y="460" width="82" height="13.0" fill="#60FF9F"/>
<rect x="650" y="460" width="50" height="13.0" fill="#9FFF60"/>
<rect x="700" y="460" width="36" height="13.0" fill="#DFFF20"/>
<rect x="736" y="460" width="37" height="13.0" fill="#9FFF60"/>
<rect x="773" y="460" width="27" height="13.0" fill="#DFFF20"/>
<rect x="800" y="460" width="18" height="13.0" fill="#9FFF60"/>
<rect x="818" y="460" width="19" height="13.0" fill="#DFFF20"/>
<rect x="837" y="460" width="31" height="13.0" fill="#9FFF60"/>
<rect x="868" y="460" width="10" height="13.0" fill="#60FF9F"/>
<rect x="878" y="460" width="59" height="13.0" fill="#9FFF60"/>
<rect x="937" y="460" width="15" height="13.0" fill="#60FF9F"/>
<rect x="554" y="473" width="14" height="17.0" fill="#9FFF60"/>
<rect x="568" y="473" width="82" height="17.0" fill="#60FF9F"/>
<rect x="650" y="473" width="54" height="17.0" fill="#9FFF60"/>
<rect x="704" y="473" width="23" height="17.0" fill="#DFFF20"/>
<rect x="727" y="473" width="96" height="17.0" fill="#9FFF60"/>
<rect x="823" y="473" width="9" height="17.0" fill="#DFFF20"/>
<rect x="832" y="473" width="41" height="17.0" fill="#9FFF60"/>
<rect x="873" y="473" width="5" height="17.0" fill="#60FF9F"/>
<rect x="878" y="473" width="59" height="17.0" fill="#9FFF60"/>
<rect x="937" y="473" width="15" height="17.0" fill="#60FF9F"/>
<rect x="554" y="490" width="9" height="24.0" fill="#9FFF60"/>
<rect x="563" y="490" width="87" height="24.0" fill="#60FF9F"/>
<rect x="650" y="490" width="173" height="24.0" fill="#9FFF60"/>
<rect x="823" y="490" width="4" height="24.0" fill="#DFFF20"/>
<rect x="827" y="490" width="28" height="24.0" fill="#9FFF60"/>
<rect x="855" y="490" width="27" height="24.0" fill="#60FF9F"/>
<rect x="882" y="490" width="55" height="24.0" fill="#9FFF60"/>
<rect x="937" y="490" width="15" height="24.0" fill="#60FF9F"/>
<rect x="554" y="514" width="100" height="36.0" fill="#60FF9F"/>
<rect x="654" y="514" width="196" height="36.0" fill="#9FFF60"/>
<rect x="850" y="514" width="41" height="36.0" fill="#60FF9F"/>
<rect x="891" y="514" width="14" height="36.0" fill="#9FFF60"/>
<rect x="905" y="514" width="4" height="36.0" fill="#60FF9F"/>
<rect x="909" y="514" width="14" height="36.0" fill="#9FFF60"/>
<rect x="923" y="514" width="29" height="36.0" fill="#60FF9F"/>
<rect x="554" y="550" width="137" height="44.5" fill="#60FF9F"/>
<rect x="691" y="550" width="50" height="44.5" fill="#9FFF60"/>
<rect x="741" y="550" width="23" height="44.5" fill="#60FF9F"/>
<rect x="764" y="550" width="77" height="44.5" fill="#9FFF60"/>
<rect x="841" y="550" width="111" height="44.5" fill="#60FF9F"/>
</g>
<line class="z" x1="734.5" x2="734.5" y1="424.0" y2="591.5"/>
<polyline class="ml" points="554.0,471.0 560.0,473.0 568.0,476.4 575.0,478.0 578.0,481.0 582.0,486.0 586.0,488.4 598.0,488.0 602.0,490.4 608.0,496.0 614.0,499.0 618.0,499.4 623.0,495.6 627.0,494.0 632.0,497.0 637.0,499.6 642.0,500.0 647.0,498.0 651.0,493.0 653.0,486.0 655.0,479.0 659.0,477.0 664.0,476.4 688.0,476.4 694.0,474.4 702.0,469.0 710.0,466.0 718.0,465.2 726.0,465.4 732.0,467.0 738.0,471.0 744.0,475.0 750.0,477.0 758.0,478.0 766.0,475.0 772.0,471.0 780.0,467.0 788.0,466.6 793.0,467.0 800.0,469.6 808.0,471.6 814.0,471.0 819.0,466.0 826.0,464.4 836.0,464.6 841.0,467.0 846.0,471.6 852.0,476.0 858.0,479.0 870.0,479.4 875.0,481.6 880.0,479.0 890.0,476.4 900.0,473.6 910.0,473.0 922.0,471.6 934.0,471.2 940.0,473.6 945.0,474.6 950.0,479.0"/>
<rect class="ax" x="552.5" y="423.5" width="401.0" height="171.0"/>
<path class="tk" d="M553.0 595.5h41"/>
<text class="t" x="759.0" y="569.5">f) b<tspan dy="11" dx="1.5" style="font-size:19px;font-weight:bold;stroke-width:.3px">b</tspan><tspan dy="-11" dx="1"> at 450nm</tspan></text>
<g class="m">
<rect x="986" y="580" width="40" height="16" fill="#009FFF"/>
<rect x="986" y="564" width="40" height="16" fill="#00DFFF"/>
<rect x="986" y="549" width="40" height="15" fill="#20FFDF"/>
<rect x="986" y="533" width="40" height="16" fill="#60FF9F"/>
<rect x="986" y="517" width="40" height="16" fill="#9FFF60"/>
<rect x="986" y="502" width="40" height="15" fill="#DFFF20"/>
<rect x="986" y="486" width="40" height="16" fill="#FFDF00"/>
<rect x="986" y="470" width="40" height="16" fill="#FF9F00"/>
<rect x="986" y="455" width="40" height="15" fill="#FF6000"/>
<rect x="986" y="439" width="40" height="16" fill="#FF2000"/>
<rect x="986" y="424" width="40" height="15" fill="#DF0000"/>
</g>
<rect class="ax" x="985.5" y="423.5" width="41.0" height="172.0"/>
<text class="t" x="1031" y="605.1">0</text>
<text class="t" x="1031" y="519.1">5</text>
<text class="t" x="1031" y="433.1">10</text>
<path class="tk" d="M985.5 595.5h3M1026.5 595.5h-3M985.5 509.5h3M1026.5 509.5h-3M985.5 423.5h3M1026.5 423.5h-3"/>
<text class="t" x="1026" y="413.5">x 10<tspan dy="-12" style="font-size:15px">-3</tspan></text>
<text class="t" x="113.5" y="621.7" text-anchor="end">0</text>
<text class="t" x="113.5" y="678.7" text-anchor="end">-100</text>
<text class="t" x="113.5" y="735.7" text-anchor="end">-200</text>
<text class="t" x="113.5" y="792.7" text-anchor="end">-300</text>
<path class="tk" d="M120.5 612.5h5M521.5 612.5h-5M120.5 669.5h5M521.5 669.5h-5M120.5 726.5h5M521.5 726.5h-5M302.5 783.5v-5M211.5 783.5v-5M211.5 612.5v5M393.5 783.5v-5M393.5 612.5v5M485.5 783.5v-5M485.5 612.5v5"/>
<g class="m">
<use href="#o" x="184.3" y="614.9" fill="#009FFF"/>
<use href="#o" x="206.6" y="649.2" fill="#009FFF"/>
<use href="#o" x="214.3" y="614.9" fill="#009FFF"/>
<use href="#o" x="281.3" y="614.9" fill="#009FFF"/>
<use href="#o" x="155.5" y="614.9" fill="#00DFFF"/>
<use href="#o" x="169.2" y="620.6" fill="#00DFFF"/>
<use href="#o" x="184.3" y="620.6" fill="#00DFFF"/>
<use href="#o" x="184.3" y="626.3" fill="#00DFFF"/>
<use href="#o" x="192.5" y="620.6" fill="#00DFFF"/>
<use href="#o" x="199.3" y="614.9" fill="#00DFFF"/>
<use href="#o" x="199.3" y="620.6" fill="#00DFFF"/>
<use href="#o" x="206.6" y="614.9" fill="#00DFFF"/>
<use href="#o" x="206.6" y="620.6" fill="#00DFFF"/>
<use href="#o" x="206.6" y="637.7" fill="#00DFFF"/>
<use href="#o" x="206.6" y="643.5" fill="#00DFFF"/>
<use href="#o" x="214.3" y="620.6" fill="#00DFFF"/>
<use href="#o" x="214.3" y="626.3" fill="#00DFFF"/>
<use href="#o" x="231.2" y="614.9" fill="#00DFFF"/>
<use href="#o" x="231.2" y="620.6" fill="#00DFFF"/>
<use href="#o" x="231.2" y="626.3" fill="#00DFFF"/>
<use href="#o" x="231.2" y="632.0" fill="#00DFFF"/>
<use href="#o" x="231.2" y="643.5" fill="#00DFFF"/>
<use href="#o" x="281.3" y="620.6" fill="#00DFFF"/>
<use href="#o" x="281.3" y="626.3" fill="#00DFFF"/>
<use href="#o" x="297.3" y="672.1" fill="#00DFFF"/>
<use href="#o" x="310.5" y="614.9" fill="#00DFFF"/>
<use href="#o" x="333.5" y="614.9" fill="#00DFFF"/>
<use href="#o" x="333.5" y="660.6" fill="#00DFFF"/>
<use href="#o" x="441.5" y="614.9" fill="#00DFFF"/>
<use href="#o" x="473.2" y="614.9" fill="#00DFFF"/>
<use href="#o" x="473.2" y="620.6" fill="#00DFFF"/>
<use href="#o" x="124.6" y="643.5" fill="#20FFDF"/>
<use href="#o" x="155.5" y="643.5" fill="#20FFDF"/>
<use href="#o" x="155.5" y="649.2" fill="#20FFDF"/>
<use href="#o" x="169.2" y="614.9" fill="#20FFDF"/>
<use href="#o" x="169.2" y="626.3" fill="#20FFDF"/>
<use href="#o" x="169.2" y="643.5" fill="#20FFDF"/>
<use href="#o" x="169.2" y="649.2" fill="#20FFDF"/>
<use href="#o" x="169.2" y="654.9" fill="#20FFDF"/>
<use href="#o" x="169.2" y="660.6" fill="#20FFDF"/>
<use href="#o" x="169.2" y="666.3" fill="#20FFDF"/>
<use href="#o" x="184.3" y="632.0" fill="#20FFDF"/>
<use href="#o" x="184.3" y="654.9" fill="#20FFDF"/>
<use href="#o" x="184.3" y="660.6" fill="#20FFDF"/>
<use href="#o" x="184.3" y="666.3" fill="#20FFDF"/>
<use href="#o" x="184.3" y="672.1" fill="#20FFDF"/>
<use href="#o" x="184.3" y="677.8" fill="#20FFDF"/>
<use href="#o" x="184.3" y="683.5" fill="#20FFDF"/>
<use href="#o" x="184.3" y="689.2" fill="#20FFDF"/>
<use href="#o" x="192.5" y="614.9" fill="#20FFDF"/>
<use href="#o" x="192.5" y="654.9" fill="#20FFDF"/>
<use href="#o" x="192.5" y="660.6" fill="#20FFDF"/>
<use href="#o" x="192.5" y="666.3" fill="#20FFDF"/>
<use href="#o" x="192.5" y="672.1" fill="#20FFDF"/>
<use href="#o" x="192.5" y="677.8" fill="#20FFDF"/>
<use href="#o" x="192.5" y="683.5" fill="#20FFDF"/>
<use href="#o" x="199.3" y="626.3" fill="#20FFDF"/>
<use href="#o" x="199.3" y="632.0" fill="#20FFDF"/>
<use href="#o" x="199.3" y="654.9" fill="#20FFDF"/>
<use href="#o" x="199.3" y="660.6" fill="#20FFDF"/>
<use href="#o" x="199.3" y="666.3" fill="#20FFDF"/>
<use href="#o" x="199.3" y="672.1" fill="#20FFDF"/>
<use href="#o" x="199.3" y="677.8" fill="#20FFDF"/>
<use href="#o" x="199.3" y="683.5" fill="#20FFDF"/>
<use href="#o" x="206.6" y="654.9" fill="#20FFDF"/>
<use href="#o" x="206.6" y="660.6" fill="#20FFDF"/>
<use href="#o" x="206.6" y="666.3" fill="#20FFDF"/>
<use href="#o" x="206.6" y="672.1" fill="#20FFDF"/>
<use href="#o" x="206.6" y="677.8" fill="#20FFDF"/>
<use href="#o" x="281.3" y="632.0" fill="#20FFDF"/>
<use href="#o" x="281.3" y="637.7" fill="#20FFDF"/>
<use href="#o" x="281.3" y="643.5" fill="#20FFDF"/>
<use href="#o" x="281.3" y="654.9" fill="#20FFDF"/>
<use href="#o" x="281.3" y="660.6" fill="#20FFDF"/>
<use href="#o" x="281.3" y="666.3" fill="#20FFDF"/>
<use href="#o" x="297.3" y="614.9" fill="#20FFDF"/>
<use href="#o" x="297.3" y="626.3" fill="#20FFDF"/>
<use href="#o" x="297.3" y="632.0" fill="#20FFDF"/>
<use href="#o" x="297.3" y="643.5" fill="#20FFDF"/>
<use href="#o" x="297.3" y="649.2" fill="#20FFDF"/>
<use href="#o" x="297.3" y="654.9" fill="#20FFDF"/>
<use href="#o" x="297.3" y="660.6" fill="#20FFDF"/>
<use href="#o" x="297.3" y="666.3" fill="#20FFDF"/>
<use href="#o" x="333.5" y="620.6" fill="#20FFDF"/>
<use href="#o" x="333.5" y="626.3" fill="#20FFDF"/>
<use href="#o" x="333.5" y="649.2" fill="#20FFDF"/>
<use href="#o" x="333.5" y="654.9" fill="#20FFDF"/>
<use href="#o" x="441.5" y="620.6" fill="#20FFDF"/>
<use href="#o" x="441.5" y="626.3" fill="#20FFDF"/>
<use href="#o" x="441.5" y="632.0" fill="#20FFDF"/>
<use href="#o" x="441.5" y="637.7" fill="#20FFDF"/>
<use href="#o" x="441.5" y="643.5" fill="#20FFDF"/>
<use href="#o" x="441.5" y="649.2" fill="#20FFDF"/>
<use href="#o" x="441.5" y="654.9" fill="#20FFDF"/>
<use href="#o" x="441.5" y="660.6" fill="#20FFDF"/>
<use href="#o" x="473.2" y="626.3" fill="#20FFDF"/>
<use href="#o" x="473.2" y="632.0" fill="#20FFDF"/>
<use href="#o" x="473.2" y="643.5" fill="#20FFDF"/>
<use href="#o" x="473.2" y="660.6" fill="#20FFDF"/>
<use href="#o" x="473.2" y="666.3" fill="#20FFDF"/>
<use href="#o" x="473.2" y="672.1" fill="#20FFDF"/>
<use href="#o" x="496.6" y="614.9" fill="#20FFDF"/>
<use href="#o" x="496.6" y="620.6" fill="#20FFDF"/>
<use href="#o" x="496.6" y="626.3" fill="#20FFDF"/>
<use href="#o" x="496.6" y="632.0" fill="#20FFDF"/>
<use href="#o" x="496.6" y="637.7" fill="#20FFDF"/>
<use href="#o" x="120.5" y="614.9" fill="#60FF9F"/>
<use href="#o" x="120.5" y="620.6" fill="#60FF9F"/>
<use href="#o" x="120.5" y="643.5" fill="#60FF9F"/>
<use href="#o" x="120.5" y="649.2" fill="#60FF9F"/>
<use href="#o" x="120.5" y="654.9" fill="#60FF9F"/>
<use href="#o" x="120.5" y="660.6" fill="#60FF9F"/>
<use href="#o" x="120.5" y="666.3" fill="#60FF9F"/>
<use href="#o" x="124.6" y="614.9" fill="#60FF9F"/>
<use href="#o" x="124.6" y="620.6" fill="#60FF9F"/>
<use href="#o" x="124.6" y="626.3" fill="#60FF9F"/>
<use href="#o" x="124.6" y="632.0" fill="#60FF9F"/>
<use href="#o" x="124.6" y="637.7" fill="#60FF9F"/>
<use href="#o" x="124.6" y="649.2" fill="#60FF9F"/>
<use href="#o" x="124.6" y="654.9" fill="#60FF9F"/>
<use href="#o" x="124.6" y="666.3" fill="#60FF9F"/>
<use href="#o" x="148.7" y="637.7" fill="#60FF9F"/>
<use href="#o" x="148.7" y="643.5" fill="#60FF9F"/>
<use href="#o" x="148.7" y="649.2" fill="#60FF9F"/>
<use href="#o" x="148.7" y="654.9" fill="#60FF9F"/>
<use href="#o" x="148.7" y="660.6" fill="#60FF9F"/>
<use href="#o" x="148.7" y="666.3" fill="#60FF9F"/>
<use href="#o" x="155.5" y="620.6" fill="#60FF9F"/>
<use href="#o" x="155.5" y="626.3" fill="#60FF9F"/>
<use href="#o" x="155.5" y="632.0" fill="#60FF9F"/>
<use href="#o" x="155.5" y="637.7" fill="#60FF9F"/>
<use href="#o" x="155.5" y="654.9" fill="#60FF9F"/>
<use href="#o" x="155.5" y="660.6" fill="#60FF9F"/>
<use href="#o" x="155.5" y="666.3" fill="#60FF9F"/>
<use href="#o" x="155.5" y="672.1" fill="#60FF9F"/>
<use href="#o" x="169.2" y="637.7" fill="#60FF9F"/>
<use href="#o" x="184.3" y="643.5" fill="#60FF9F"/>
<use href="#o" x="184.3" y="649.2" fill="#60FF9F"/>
<use href="#o" x="192.5" y="626.3" fill="#60FF9F"/>
<use href="#o" x="192.5" y="632.0" fill="#60FF9F"/>
<use href="#o" x="192.5" y="643.5" fill="#60FF9F"/>
<use href="#o" x="192.5" y="649.2" fill="#60FF9F"/>
<use href="#o" x="199.3" y="643.5" fill="#60FF9F"/>
<use href="#o" x="199.3" y="649.2" fill="#60FF9F"/>
<use href="#o" x="206.6" y="626.3" fill="#60FF9F"/>
<use href="#o" x="206.6" y="632.0" fill="#60FF9F"/>
<use href="#o" x="214.3" y="660.6" fill="#60FF9F"/>
<use href="#o" x="214.3" y="666.3" fill="#60FF9F"/>
<use href="#o" x="281.3" y="649.2" fill="#60FF9F"/>
<use href="#o" x="297.3" y="620.6" fill="#60FF9F"/>
<use href="#o" x="297.3" y="637.7" fill="#60FF9F"/>
<use href="#o" x="310.5" y="620.6" fill="#60FF9F"/>
<use href="#o" x="333.5" y="632.0" fill="#60FF9F"/>
<use href="#o" x="333.5" y="637.7" fill="#60FF9F"/>
<use href="#o" x="333.5" y="643.5" fill="#60FF9F"/>
<use href="#o" x="473.2" y="637.7" fill="#60FF9F"/>
<use href="#o" x="473.2" y="649.2" fill="#60FF9F"/>
<use href="#o" x="473.2" y="654.9" fill="#60FF9F"/>
<use href="#o" x="496.6" y="643.5" fill="#60FF9F"/>
<use href="#o" x="496.6" y="649.2" fill="#60FF9F"/>
<use href="#o" x="120.5" y="626.3" fill="#9FFF60"/>
<use href="#o" x="120.5" y="632.0" fill="#9FFF60"/>
<use href="#o" x="120.5" y="637.7" fill="#9FFF60"/>
<use href="#o" x="148.7" y="614.9" fill="#9FFF60"/>
<use href="#o" x="148.7" y="620.6" fill="#9FFF60"/>
<use href="#o" x="148.7" y="626.3" fill="#9FFF60"/>
<use href="#o" x="148.7" y="632.0" fill="#9FFF60"/>
<use href="#o" x="169.2" y="632.0" fill="#9FFF60"/>
<use href="#o" x="184.3" y="637.7" fill="#9FFF60"/>
<use href="#o" x="199.3" y="637.7" fill="#9FFF60"/>
<use href="#o" x="214.3" y="632.0" fill="#9FFF60"/>
<use href="#o" x="214.3" y="637.7" fill="#9FFF60"/>
<use href="#o" x="214.3" y="643.5" fill="#9FFF60"/>
<use href="#o" x="214.3" y="649.2" fill="#9FFF60"/>
<use href="#o" x="214.3" y="654.9" fill="#9FFF60"/>
<use href="#o" x="214.3" y="672.1" fill="#9FFF60"/>
<use href="#o" x="214.3" y="677.8" fill="#9FFF60"/>
<use href="#o" x="231.2" y="654.9" fill="#9FFF60"/>
<use href="#o" x="409.6" y="614.9" fill="#9FFF60"/>
<use href="#o" x="231.2" y="637.7" fill="#DFFF20"/>
<use href="#o" x="231.2" y="649.2" fill="#DFFF20"/>
<use href="#o" x="409.6" y="620.6" fill="#DFFF20"/>
<use href="#o" x="192.5" y="637.7" fill="#FFDF00"/>
<use href="#o" x="310.5" y="626.3" fill="#FF6000"/>
<use href="#o" x="124.6" y="660.6" fill="#FF2000"/>
</g>
<line class="z" x1="302.5" x2="302.5" y1="613.0" y2="780.5"/>
<g class="p">
<use href="#pl" x="120.5" y="650.0"/>
<use href="#pl" x="124.5" y="641.0"/>
<use href="#pl" x="148.5" y="641.0"/>
<use href="#pl" x="155.5" y="663.0"/>
<use href="#pl" x="177.5" y="677.5"/>
<use href="#pl" x="184.3" y="688.8"/>
<use href="#pl" x="190.9" y="683.1"/>
<use href="#pl" x="198.6" y="683.1"/>
<use href="#pl" x="206.1" y="683.6"/>
<use href="#pl" x="213.9" y="686.2"/>
<use href="#pl" x="231.3" y="683.9"/>
<use href="#pl" x="281.4" y="659.3"/>
<use href="#pl" x="297.4" y="646.2"/>
<use href="#pl" x="310.7" y="657.1"/>
<use href="#pl" x="333.0" y="642.7"/>
<use href="#pl" x="347.5" y="651.5"/>
<use href="#pl" x="361.5" y="647.5"/>
<use href="#pl" x="377.5" y="650.5"/>
<use href="#pl" x="396.5" y="634.0"/>
<use href="#pl" x="397.5" y="627.0"/>
<use href="#pl" x="403.0" y="627.0"/>
<use href="#pl" x="441.5" y="671.0"/>
<use href="#pl" x="473.3" y="659.0"/>
<use href="#pl" x="490.4" y="662.1"/>
<use href="#pl" x="496.2" y="643.1"/>
</g>
<rect class="ax" x="120.5" y="612.5" width="401.0" height="171.0"/>
<text class="t" transform="translate(53,699.9) rotate(-90)" text-anchor="middle" style="font-size:25px" textLength="109">depth (m)</text>
<text class="t" x="325.0" y="758.5">g) b<tspan dy="11" dx="1.5" style="font-size:19px;font-weight:bold;stroke-width:.3px">b</tspan><tspan dy="-11" dx="1"> at 555nm</tspan></text>
<path class="tk" d="M552.5 612.5h4M953.5 612.5h-4M734.5 612.5v3M643.5 612.5v3M825.5 612.5v3M917.5 612.5v3"/>
<g class="m">
<rect x="554" y="614" width="18" height="6.0" fill="#20FFDF"/>
<rect x="572" y="614" width="78" height="6.0" fill="#00DFFF"/>
<rect x="650" y="614" width="41" height="6.0" fill="#20FFDF"/>
<rect x="691" y="614" width="36" height="6.0" fill="#60FF9F"/>
<rect x="727" y="614" width="27" height="6.0" fill="#20FFDF"/>
<rect x="754" y="614" width="10" height="6.0" fill="#00DFFF"/>
<rect x="764" y="614" width="54" height="6.0" fill="#20FFDF"/>
<rect x="818" y="614" width="19" height="6.0" fill="#60FF9F"/>
<rect x="837" y="614" width="18" height="6.0" fill="#20FFDF"/>
<rect x="855" y="614" width="27" height="6.0" fill="#00DFFF"/>
<rect x="882" y="614" width="70" height="6.0" fill="#20FFDF"/>
<rect x="554" y="620" width="18" height="7.0" fill="#20FFDF"/>
<rect x="572" y="620" width="78" height="7.0" fill="#00DFFF"/>
<rect x="650" y="620" width="41" height="7.0" fill="#20FFDF"/>
<rect x="691" y="620" width="45" height="7.0" fill="#60FF9F"/>
<rect x="736" y="620" width="78" height="7.0" fill="#20FFDF"/>
<rect x="814" y="620" width="27" height="7.0" fill="#60FF9F"/>
<rect x="841" y="620" width="18" height="7.0" fill="#20FFDF"/>
<rect x="859" y="620" width="5" height="7.0" fill="#00DFFF"/>
<rect x="864" y="620" width="4" height="7.0" fill="#20FFDF"/>
<rect x="868" y="620" width="10" height="7.0" fill="#00DFFF"/>
<rect x="878" y="620" width="74" height="7.0" fill="#20FFDF"/>
<rect x="554" y="627" width="23" height="10.0" fill="#20FFDF"/>
<rect x="577" y="627" width="13" height="10.0" fill="#00DFFF"/>
<rect x="590" y="627" width="5" height="10.0" fill="#20FFDF"/>
<rect x="595" y="627" width="55" height="10.0" fill="#00DFFF"/>
<rect x="650" y="627" width="41" height="10.0" fill="#20FFDF"/>
<rect x="691" y="627" width="50" height="10.0" fill="#60FF9F"/>
<rect x="741" y="627" width="27" height="10.0" fill="#20FFDF"/>
<rect x="768" y="627" width="78" height="10.0" fill="#60FF9F"/>
<rect x="846" y="627" width="106" height="10.0" fill="#20FFDF"/>
<rect x="554" y="637" width="50" height="12.0" fill="#20FFDF"/>
<rect x="604" y="637" width="18" height="12.0" fill="#00DFFF"/>
<rect x="622" y="637" width="5" height="12.0" fill="#20FFDF"/>
<rect x="627" y="637" width="18" height="12.0" fill="#00DFFF"/>
<rect x="645" y="637" width="9" height="12.0" fill="#20FFDF"/>
<rect x="654" y="637" width="96" height="12.0" fill="#60FF9F"/>
<rect x="750" y="637" width="9" height="12.0" fill="#20FFDF"/>
<rect x="759" y="637" width="87" height="12.0" fill="#60FF9F"/>
<rect x="846" y="637" width="106" height="12.0" fill="#20FFDF"/>
<rect x="554" y="649" width="55" height="13.0" fill="#20FFDF"/>
<rect x="609" y="649" width="9" height="13.0" fill="#00DFFF"/>
<rect x="618" y="649" width="13" height="13.0" fill="#20FFDF"/>
<rect x="631" y="649" width="14" height="13.0" fill="#00DFFF"/>
<rect x="645" y="649" width="9" height="13.0" fill="#20FFDF"/>
<rect x="654" y="649" width="196" height="13.0" fill="#60FF9F"/>
<rect x="850" y="649" width="102" height="13.0" fill="#20FFDF"/>
<rect x="554" y="662" width="55" height="17.0" fill="#20FFDF"/>
<rect x="609" y="662" width="9" height="17.0" fill="#00DFFF"/>
<rect x="618" y="662" width="36" height="17.0" fill="#20FFDF"/>
<rect x="654" y="662" width="91" height="17.0" fill="#60FF9F"/>
<rect x="745" y="662" width="19" height="17.0" fill="#20FFDF"/>
<rect x="764" y="662" width="86" height="17.0" fill="#60FF9F"/>
<rect x="850" y="662" width="102" height="17.0" fill="#20FFDF"/>
<rect x="554" y="679" width="59" height="24.0" fill="#20FFDF"/>
<rect x="613" y="679" width="5" height="24.0" fill="#00DFFF"/>
<rect x="618" y="679" width="73" height="24.0" fill="#20FFDF"/>
<rect x="691" y="679" width="50" height="24.0" fill="#60FF9F"/>
<rect x="741" y="679" width="27" height="24.0" fill="#20FFDF"/>
<rect x="768" y="679" width="78" height="24.0" fill="#60FF9F"/>
<rect x="846" y="679" width="106" height="24.0" fill="#20FFDF"/>
<rect x="554" y="703" width="55" height="36.0" fill="#20FFDF"/>
<rect x="609" y="703" width="9" height="36.0" fill="#00DFFF"/>
<rect x="618" y="703" width="13" height="36.0" fill="#20FFDF"/>
<rect x="631" y="703" width="14" height="36.0" fill="#00DFFF"/>
<rect x="645" y="703" width="50" height="36.0" fill="#20FFDF"/>
<rect x="695" y="703" width="37" height="36.0" fill="#60FF9F"/>
<rect x="732" y="703" width="36" height="36.0" fill="#20FFDF"/>
<rect x="768" y="703" width="37" height="36.0" fill="#60FF9F"/>
<rect x="805" y="703" width="9" height="36.0" fill="#20FFDF"/>
<rect x="814" y="703" width="27" height="36.0" fill="#60FF9F"/>
<rect x="841" y="703" width="111" height="36.0" fill="#20FFDF"/>
<rect x="554" y="739" width="50" height="44.5" fill="#20FFDF"/>
<rect x="604" y="739" width="18" height="44.5" fill="#00DFFF"/>
<rect x="622" y="739" width="5" height="44.5" fill="#20FFDF"/>
<rect x="627" y="739" width="23" height="44.5" fill="#00DFFF"/>
<rect x="650" y="739" width="173" height="44.5" fill="#20FFDF"/>
<rect x="823" y="739" width="9" height="44.5" fill="#60FF9F"/>
<rect x="832" y="739" width="120" height="44.5" fill="#20FFDF"/>
</g>
<line class="z" x1="734.5" x2="734.5" y1="613.0" y2="780.5"/>
<polyline class="ml" points="554.0,660.0 560.0,662.0 568.0,665.4 575.0,667.0 578.0,670.0 582.0,675.0 586.0,677.4 598.0,677.0 602.0,679.4 608.0,685.0 614.0,688.0 618.0,688.4 623.0,684.6 627.0,683.0 632.0,686.0 637.0,688.6 642.0,689.0 647.0,687.0 651.0,682.0 653.0,675.0 655.0,668.0 659.0,666.0 664.0,665.4 688.0,665.4 694.0,663.4 702.0,658.0 710.0,655.0 718.0,654.2 726.0,654.4 732.0,656.0 738.0,660.0 744.0,664.0 750.0,666.0 758.0,667.0 766.0,664.0 772.0,660.0 780.0,656.0 788.0,655.6 793.0,656.0 800.0,658.6 808.0,660.6 814.0,660.0 819.0,655.0 826.0,653.4 836.0,653.6 841.0,656.0 846.0,660.6 852.0,665.0 858.0,668.0 870.0,668.4 875.0,670.6 880.0,668.0 890.0,665.4 900.0,662.6 910.0,662.0 922.0,660.6 934.0,660.2 940.0,662.6 945.0,663.6 950.0,668.0"/>
<rect class="ax" x="552.5" y="612.5" width="401.0" height="171.0"/>
<path class="tk" d="M553.0 784.5h41"/>
<text class="t" x="759.0" y="758.5">h) b<tspan dy="11" dx="1.5" style="font-size:19px;font-weight:bold;stroke-width:.3px">b</tspan><tspan dy="-11" dx="1"> at 550nm</tspan></text>
<g class="m">
<rect x="986" y="769" width="40" height="15" fill="#009FFF"/>
<rect x="986" y="753" width="40" height="16" fill="#00DFFF"/>
<rect x="986" y="738" width="40" height="15" fill="#20FFDF"/>
<rect x="986" y="722" width="40" height="16" fill="#60FF9F"/>
<rect x="986" y="706" width="40" height="16" fill="#9FFF60"/>
<rect x="986" y="691" width="40" height="15" fill="#DFFF20"/>
<rect x="986" y="675" width="40" height="16" fill="#FFDF00"/>
<rect x="986" y="659" width="40" height="16" fill="#FF9F00"/>
<rect x="986" y="644" width="40" height="15" fill="#FF6000"/>
<rect x="986" y="628" width="40" height="16" fill="#FF2000"/>
<rect x="986" y="612" width="40" height="16" fill="#DF0000"/>
</g>
<rect class="ax" x="985.5" y="612.5" width="41.0" height="172.0"/>
<text class="t" x="1031" y="794.1">0</text>
<text class="t" x="1031" y="708.1">5</text>
<text class="t" x="1031" y="622.1">10</text>
<path class="tk" d="M985.5 784.5h3M1026.5 784.5h-3M985.5 698.5h3M1026.5 698.5h-3M985.5 612.5h3M1026.5 612.5h-3"/>
<text class="t" x="1026" y="602.5">x 10<tspan dy="-12" style="font-size:15px">-3</tspan></text>
<text class="t" x="116.0" y="814" text-anchor="middle">-40</text>
<text class="t" x="207.1" y="814" text-anchor="middle">-20</text>
<text class="t" x="302.3" y="814" text-anchor="middle">0</text>
<text class="t" x="393.4" y="814" text-anchor="middle">20</text>
<text class="t" x="484.5" y="814" text-anchor="middle">40</text>
<text class="t" x="548.0" y="814" text-anchor="middle">-40</text>
<text class="t" x="639.1" y="814" text-anchor="middle">-20</text>
<text class="t" x="734.3" y="814" text-anchor="middle">0</text>
<text class="t" x="825.4" y="814" text-anchor="middle">20</text>
<text class="t" x="916.5" y="814" text-anchor="middle">40</text>
<text class="t" x="319.3" y="845" text-anchor="middle" style="font-size:25px" textLength="88">latitude</text>
<text class="t" x="752.3" y="845" text-anchor="middle" style="font-size:25px" textLength="88">latitude</text>
</svg></body></html>
